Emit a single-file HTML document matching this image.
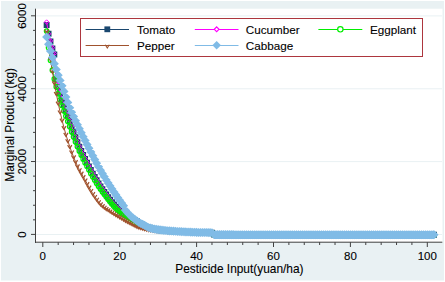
<!DOCTYPE html>
<html><head><meta charset="utf-8"><title>Marginal Product</title>
<style>
html,body{margin:0;padding:0;background:#fff;overflow:hidden;}
svg{display:block;}
text{font-family:"Liberation Sans",sans-serif;fill:#000;stroke:#000;stroke-width:0.1px;}
.tk{font-size:11.5px;}
.lg{font-size:11.7px;}
.ttl{font-size:11.9px;}
</style></head><body>
<svg width="445" height="282" viewBox="0 0 445 282">
<rect x="0" y="0" width="445" height="282" fill="#fff"/>
<rect x="1" y="1" width="443" height="279.5" fill="#E9F1F3"/>
<rect x="36" y="8.7" width="406.5" height="233.3" fill="#fff"/>
<line x1="36" x2="442" y1="234.50" y2="234.50" stroke="#E9F1F3" stroke-width="1"/>
<line x1="36" x2="442" y1="161.63" y2="161.63" stroke="#E9F1F3" stroke-width="1"/>
<line x1="36" x2="442" y1="88.77" y2="88.77" stroke="#E9F1F3" stroke-width="1"/>
<line x1="36" x2="442" y1="15.90" y2="15.90" stroke="#E9F1F3" stroke-width="1"/>
<g stroke="#404040" stroke-width="1">
<line x1="35.5" x2="35.5" y1="8.7" y2="243"/>
<line x1="35" x2="442.3" y1="242.2" y2="242.2"/>
<line x1="31.00" x2="35.5" y1="234.40" y2="234.40"/>
<line x1="33.00" x2="35.5" y1="219.83" y2="219.83"/>
<line x1="33.00" x2="35.5" y1="205.25" y2="205.25"/>
<line x1="33.00" x2="35.5" y1="190.68" y2="190.68"/>
<line x1="33.00" x2="35.5" y1="176.11" y2="176.11"/>
<line x1="31.00" x2="35.5" y1="161.53" y2="161.53"/>
<line x1="33.00" x2="35.5" y1="146.96" y2="146.96"/>
<line x1="33.00" x2="35.5" y1="132.39" y2="132.39"/>
<line x1="33.00" x2="35.5" y1="117.81" y2="117.81"/>
<line x1="33.00" x2="35.5" y1="103.24" y2="103.24"/>
<line x1="31.00" x2="35.5" y1="88.67" y2="88.67"/>
<line x1="33.00" x2="35.5" y1="74.09" y2="74.09"/>
<line x1="33.00" x2="35.5" y1="59.52" y2="59.52"/>
<line x1="33.00" x2="35.5" y1="44.95" y2="44.95"/>
<line x1="33.00" x2="35.5" y1="30.38" y2="30.38"/>
<line x1="31.00" x2="35.5" y1="15.80" y2="15.80"/>
<line x1="42.80" x2="42.80" y1="242.2" y2="247.00"/>
<line x1="58.18" x2="58.18" y1="242.2" y2="245.00"/>
<line x1="73.56" x2="73.56" y1="242.2" y2="245.00"/>
<line x1="88.94" x2="88.94" y1="242.2" y2="245.00"/>
<line x1="104.32" x2="104.32" y1="242.2" y2="245.00"/>
<line x1="119.70" x2="119.70" y1="242.2" y2="247.00"/>
<line x1="135.08" x2="135.08" y1="242.2" y2="245.00"/>
<line x1="150.46" x2="150.46" y1="242.2" y2="245.00"/>
<line x1="165.84" x2="165.84" y1="242.2" y2="245.00"/>
<line x1="181.22" x2="181.22" y1="242.2" y2="245.00"/>
<line x1="196.60" x2="196.60" y1="242.2" y2="247.00"/>
<line x1="211.98" x2="211.98" y1="242.2" y2="245.00"/>
<line x1="227.36" x2="227.36" y1="242.2" y2="245.00"/>
<line x1="242.74" x2="242.74" y1="242.2" y2="245.00"/>
<line x1="258.12" x2="258.12" y1="242.2" y2="245.00"/>
<line x1="273.50" x2="273.50" y1="242.2" y2="247.00"/>
<line x1="288.88" x2="288.88" y1="242.2" y2="245.00"/>
<line x1="304.26" x2="304.26" y1="242.2" y2="245.00"/>
<line x1="319.64" x2="319.64" y1="242.2" y2="245.00"/>
<line x1="335.02" x2="335.02" y1="242.2" y2="245.00"/>
<line x1="350.40" x2="350.40" y1="242.2" y2="247.00"/>
<line x1="365.78" x2="365.78" y1="242.2" y2="245.00"/>
<line x1="381.16" x2="381.16" y1="242.2" y2="245.00"/>
<line x1="396.54" x2="396.54" y1="242.2" y2="245.00"/>
<line x1="411.92" x2="411.92" y1="242.2" y2="245.00"/>
<line x1="427.30" x2="427.30" y1="242.2" y2="247.00"/>
</g>
<text class="tk" transform="translate(25.7,234.60) rotate(-90)" text-anchor="middle">0</text><text class="tk" transform="translate(25.7,161.73) rotate(-90)" text-anchor="middle">2000</text><text class="tk" transform="translate(25.7,88.87) rotate(-90)" text-anchor="middle">4000</text><text class="tk" transform="translate(25.7,16.00) rotate(-90)" text-anchor="middle">6000</text>
<text class="tk" x="42.80" y="260.1" text-anchor="middle">0</text><text class="tk" x="119.70" y="260.1" text-anchor="middle">20</text><text class="tk" x="196.60" y="260.1" text-anchor="middle">40</text><text class="tk" x="273.50" y="260.1" text-anchor="middle">60</text><text class="tk" x="350.40" y="260.1" text-anchor="middle">80</text><text class="tk" x="427.30" y="260.1" text-anchor="middle">100</text>
<text class="ttl" transform="translate(13.6,124.8) rotate(-90)" text-anchor="middle">Marginal Product (kg)</text>
<text class="ttl" x="239.4" y="272.6" text-anchor="middle">Pesticide Input(yuan/ha)</text>
<path d="M46.64,24.98 L48.57,33.79 L50.49,41.46 L52.41,48.49 L54.33,54.50 L56.26,79.37 L58.18,86.74 L60.10,93.32 L62.02,99.36 L63.95,105.05 L65.87,110.52 L67.79,115.89 L69.72,121.26 L71.64,126.69 L73.56,132.04 L75.48,137.18 L77.41,142.10 L79.33,146.66 L81.25,150.92 L83.17,154.95 L85.09,158.83 L87.02,162.60 L88.94,166.33 L90.86,170.04 L92.78,173.62 L94.71,177.04 L96.63,180.30 L98.55,183.41 L100.47,186.36 L102.40,189.17 L104.32,191.89 L106.24,194.57 L108.17,197.20 L110.09,199.75 L112.01,202.19 L113.93,204.50 L115.86,206.63 L117.78,208.58 L119.70,210.35 L121.62,211.94 L123.55,213.38 L125.47,214.70 L127.39,215.93 L129.31,217.09 L131.24,218.17 L133.16,219.18 L135.08,220.14 L137.00,221.22 L138.93,223.14 L140.85,224.48 L142.77,225.44 L144.69,226.26 L146.62,226.96 L148.54,227.57 L150.46,228.13 L152.38,228.65 L154.31,229.12 L156.23,229.55 L158.15,229.91 L160.07,230.21 L162.00,230.46 L163.92,230.68 L165.84,230.87 L167.76,231.04 L169.69,231.18 L171.61,231.30 L173.53,231.41 L175.45,231.50 L177.38,231.59 L179.30,231.67 L181.22,231.75 L183.14,231.83 L185.06,231.91 L186.99,231.98 L188.91,232.06 L190.83,232.13 L192.75,232.22 L194.68,232.31 L196.60,232.39 L198.52,232.46 L200.44,232.51 L202.37,232.54 L204.29,232.56 L206.21,232.57 L208.13,232.59 L210.06,232.63 L211.98,232.70 L213.90,234.51 L215.82,234.53 L217.75,234.56 L219.67,234.58 L221.59,234.60 L223.51,234.62 L225.44,234.63 L227.36,234.64 L229.28,234.66 L231.20,234.66 L233.13,234.67 L235.05,234.68 L236.97,234.68 L238.89,234.69 L240.82,234.69 L242.74,234.69 L244.66,234.69 L246.58,234.70 L248.51,234.70 L250.43,234.70 L252.35,234.70 L254.28,234.70 L256.20,234.71 L258.12,234.71 L260.04,234.71 L261.97,234.71 L263.89,234.72 L265.81,234.72 L267.73,234.72 L269.66,234.72 L271.58,234.72 L273.50,234.73 L275.42,234.73 L277.35,234.73 L279.27,234.73 L281.19,234.73 L283.11,234.73 L285.04,234.74 L286.96,234.74 L288.88,234.74 L290.80,234.74 L292.73,234.74 L294.65,234.74 L296.57,234.75 L298.49,234.75 L300.42,234.75 L302.34,234.75 L304.26,234.75 L306.18,234.75 L308.11,234.75 L310.03,234.76 L311.95,234.76 L313.87,234.76 L315.80,234.76 L317.72,234.76 L319.64,234.76 L321.56,234.76 L323.49,234.76 L325.41,234.77 L327.33,234.77 L329.25,234.77 L331.18,234.77 L333.10,234.77 L335.02,234.77 L336.94,234.77 L338.87,234.77 L340.79,234.77 L342.71,234.78 L344.63,234.78 L346.56,234.78 L348.48,234.78 L350.40,234.78 L352.32,234.78 L354.25,234.78 L356.17,234.78 L358.09,234.78 L360.01,234.78 L361.94,234.78 L363.86,234.79 L365.78,234.79 L367.70,234.79 L369.62,234.79 L371.55,234.79 L373.47,234.79 L375.39,234.79 L377.32,234.79 L379.24,234.79 L381.16,234.79 L383.08,234.79 L385.01,234.79 L386.93,234.79 L388.85,234.79 L390.77,234.79 L392.70,234.79 L394.62,234.79 L396.54,234.80 L398.46,234.80 L400.39,234.80 L402.31,234.80 L404.23,234.80 L406.15,234.80 L408.08,234.80 L410.00,234.80 L411.92,234.80 L413.84,234.80 L415.77,234.80 L417.69,234.80 L419.61,234.80 L421.53,234.80 L423.46,234.80 L425.38,234.80 L427.30,234.80 L429.22,234.80 L431.15,234.80 L433.07,234.80 L434.03,234.80" fill="none" stroke="#1A476F" stroke-width="1"/>
<path d="M43.69,22.03h5.90v5.90h-5.90zM45.62,30.84h5.90v5.90h-5.90zM47.54,38.51h5.90v5.90h-5.90zM49.46,45.54h5.90v5.90h-5.90zM51.38,51.55h5.90v5.90h-5.90zM53.31,76.42h5.90v5.90h-5.90zM55.23,83.79h5.90v5.90h-5.90zM57.15,90.37h5.90v5.90h-5.90zM59.07,96.41h5.90v5.90h-5.90zM61.00,102.10h5.90v5.90h-5.90zM62.92,107.57h5.90v5.90h-5.90zM64.84,112.94h5.90v5.90h-5.90zM66.77,118.31h5.90v5.90h-5.90zM68.69,123.74h5.90v5.90h-5.90zM70.61,129.09h5.90v5.90h-5.90zM72.53,134.23h5.90v5.90h-5.90zM74.45,139.15h5.90v5.90h-5.90zM76.38,143.71h5.90v5.90h-5.90zM78.30,147.97h5.90v5.90h-5.90zM80.22,152.00h5.90v5.90h-5.90zM82.14,155.88h5.90v5.90h-5.90zM84.07,159.65h5.90v5.90h-5.90zM85.99,163.38h5.90v5.90h-5.90zM87.91,167.09h5.90v5.90h-5.90zM89.83,170.67h5.90v5.90h-5.90zM91.76,174.09h5.90v5.90h-5.90zM93.68,177.35h5.90v5.90h-5.90zM95.60,180.46h5.90v5.90h-5.90zM97.52,183.41h5.90v5.90h-5.90zM99.45,186.22h5.90v5.90h-5.90zM101.37,188.94h5.90v5.90h-5.90zM103.29,191.62h5.90v5.90h-5.90zM105.22,194.25h5.90v5.90h-5.90zM107.14,196.80h5.90v5.90h-5.90zM109.06,199.24h5.90v5.90h-5.90zM110.98,201.55h5.90v5.90h-5.90zM112.91,203.68h5.90v5.90h-5.90zM114.83,205.63h5.90v5.90h-5.90zM116.75,207.40h5.90v5.90h-5.90zM118.67,208.99h5.90v5.90h-5.90zM120.59,210.43h5.90v5.90h-5.90zM122.52,211.75h5.90v5.90h-5.90zM124.44,212.98h5.90v5.90h-5.90zM126.36,214.14h5.90v5.90h-5.90zM128.29,215.22h5.90v5.90h-5.90zM130.21,216.23h5.90v5.90h-5.90zM132.13,217.19h5.90v5.90h-5.90zM134.05,218.27h5.90v5.90h-5.90zM135.98,220.19h5.90v5.90h-5.90zM137.90,221.53h5.90v5.90h-5.90zM139.82,222.49h5.90v5.90h-5.90zM141.74,223.31h5.90v5.90h-5.90zM143.67,224.01h5.90v5.90h-5.90zM145.59,224.62h5.90v5.90h-5.90zM147.51,225.18h5.90v5.90h-5.90zM149.43,225.70h5.90v5.90h-5.90zM151.36,226.17h5.90v5.90h-5.90zM153.28,226.60h5.90v5.90h-5.90zM155.20,226.96h5.90v5.90h-5.90zM157.12,227.26h5.90v5.90h-5.90zM159.05,227.51h5.90v5.90h-5.90zM160.97,227.73h5.90v5.90h-5.90zM162.89,227.92h5.90v5.90h-5.90zM164.81,228.09h5.90v5.90h-5.90zM166.74,228.23h5.90v5.90h-5.90zM168.66,228.35h5.90v5.90h-5.90zM170.58,228.46h5.90v5.90h-5.90zM172.50,228.55h5.90v5.90h-5.90zM174.43,228.64h5.90v5.90h-5.90zM176.35,228.72h5.90v5.90h-5.90zM178.27,228.80h5.90v5.90h-5.90zM180.19,228.88h5.90v5.90h-5.90zM182.12,228.96h5.90v5.90h-5.90zM184.04,229.03h5.90v5.90h-5.90zM185.96,229.11h5.90v5.90h-5.90zM187.88,229.18h5.90v5.90h-5.90zM189.81,229.27h5.90v5.90h-5.90zM191.73,229.36h5.90v5.90h-5.90zM193.65,229.44h5.90v5.90h-5.90zM195.57,229.51h5.90v5.90h-5.90zM197.50,229.56h5.90v5.90h-5.90zM199.42,229.59h5.90v5.90h-5.90zM201.34,229.61h5.90v5.90h-5.90zM203.26,229.62h5.90v5.90h-5.90zM205.19,229.64h5.90v5.90h-5.90zM207.11,229.68h5.90v5.90h-5.90zM209.03,229.75h5.90v5.90h-5.90zM210.95,231.56h5.90v5.90h-5.90zM212.88,231.58h5.90v5.90h-5.90zM214.80,231.61h5.90v5.90h-5.90zM216.72,231.63h5.90v5.90h-5.90zM218.64,231.65h5.90v5.90h-5.90zM220.56,231.67h5.90v5.90h-5.90zM222.49,231.68h5.90v5.90h-5.90zM224.41,231.69h5.90v5.90h-5.90zM226.33,231.71h5.90v5.90h-5.90zM228.25,231.71h5.90v5.90h-5.90zM230.18,231.72h5.90v5.90h-5.90zM232.10,231.73h5.90v5.90h-5.90zM234.02,231.73h5.90v5.90h-5.90zM235.94,231.74h5.90v5.90h-5.90zM237.87,231.74h5.90v5.90h-5.90zM239.79,231.74h5.90v5.90h-5.90zM241.71,231.74h5.90v5.90h-5.90zM243.63,231.75h5.90v5.90h-5.90zM245.56,231.75h5.90v5.90h-5.90zM247.48,231.75h5.90v5.90h-5.90zM249.40,231.75h5.90v5.90h-5.90zM251.33,231.75h5.90v5.90h-5.90zM253.25,231.76h5.90v5.90h-5.90zM255.17,231.76h5.90v5.90h-5.90zM257.09,231.76h5.90v5.90h-5.90zM259.02,231.76h5.90v5.90h-5.90zM260.94,231.77h5.90v5.90h-5.90zM262.86,231.77h5.90v5.90h-5.90zM264.78,231.77h5.90v5.90h-5.90zM266.71,231.77h5.90v5.90h-5.90zM268.63,231.77h5.90v5.90h-5.90zM270.55,231.78h5.90v5.90h-5.90zM272.47,231.78h5.90v5.90h-5.90zM274.40,231.78h5.90v5.90h-5.90zM276.32,231.78h5.90v5.90h-5.90zM278.24,231.78h5.90v5.90h-5.90zM280.16,231.78h5.90v5.90h-5.90zM282.09,231.79h5.90v5.90h-5.90zM284.01,231.79h5.90v5.90h-5.90zM285.93,231.79h5.90v5.90h-5.90zM287.85,231.79h5.90v5.90h-5.90zM289.78,231.79h5.90v5.90h-5.90zM291.70,231.79h5.90v5.90h-5.90zM293.62,231.80h5.90v5.90h-5.90zM295.54,231.80h5.90v5.90h-5.90zM297.47,231.80h5.90v5.90h-5.90zM299.39,231.80h5.90v5.90h-5.90zM301.31,231.80h5.90v5.90h-5.90zM303.23,231.80h5.90v5.90h-5.90zM305.16,231.80h5.90v5.90h-5.90zM307.08,231.81h5.90v5.90h-5.90zM309.00,231.81h5.90v5.90h-5.90zM310.92,231.81h5.90v5.90h-5.90zM312.85,231.81h5.90v5.90h-5.90zM314.77,231.81h5.90v5.90h-5.90zM316.69,231.81h5.90v5.90h-5.90zM318.61,231.81h5.90v5.90h-5.90zM320.54,231.81h5.90v5.90h-5.90zM322.46,231.82h5.90v5.90h-5.90zM324.38,231.82h5.90v5.90h-5.90zM326.30,231.82h5.90v5.90h-5.90zM328.23,231.82h5.90v5.90h-5.90zM330.15,231.82h5.90v5.90h-5.90zM332.07,231.82h5.90v5.90h-5.90zM333.99,231.82h5.90v5.90h-5.90zM335.92,231.82h5.90v5.90h-5.90zM337.84,231.82h5.90v5.90h-5.90zM339.76,231.83h5.90v5.90h-5.90zM341.68,231.83h5.90v5.90h-5.90zM343.61,231.83h5.90v5.90h-5.90zM345.53,231.83h5.90v5.90h-5.90zM347.45,231.83h5.90v5.90h-5.90zM349.37,231.83h5.90v5.90h-5.90zM351.30,231.83h5.90v5.90h-5.90zM353.22,231.83h5.90v5.90h-5.90zM355.14,231.83h5.90v5.90h-5.90zM357.06,231.83h5.90v5.90h-5.90zM358.99,231.83h5.90v5.90h-5.90zM360.91,231.84h5.90v5.90h-5.90zM362.83,231.84h5.90v5.90h-5.90zM364.75,231.84h5.90v5.90h-5.90zM366.68,231.84h5.90v5.90h-5.90zM368.60,231.84h5.90v5.90h-5.90zM370.52,231.84h5.90v5.90h-5.90zM372.44,231.84h5.90v5.90h-5.90zM374.37,231.84h5.90v5.90h-5.90zM376.29,231.84h5.90v5.90h-5.90zM378.21,231.84h5.90v5.90h-5.90zM380.13,231.84h5.90v5.90h-5.90zM382.06,231.84h5.90v5.90h-5.90zM383.98,231.84h5.90v5.90h-5.90zM385.90,231.84h5.90v5.90h-5.90zM387.82,231.84h5.90v5.90h-5.90zM389.75,231.84h5.90v5.90h-5.90zM391.67,231.84h5.90v5.90h-5.90zM393.59,231.85h5.90v5.90h-5.90zM395.51,231.85h5.90v5.90h-5.90zM397.44,231.85h5.90v5.90h-5.90zM399.36,231.85h5.90v5.90h-5.90zM401.28,231.85h5.90v5.90h-5.90zM403.20,231.85h5.90v5.90h-5.90zM405.13,231.85h5.90v5.90h-5.90zM407.05,231.85h5.90v5.90h-5.90zM408.97,231.85h5.90v5.90h-5.90zM410.89,231.85h5.90v5.90h-5.90zM412.82,231.85h5.90v5.90h-5.90zM414.74,231.85h5.90v5.90h-5.90zM416.66,231.85h5.90v5.90h-5.90zM418.58,231.85h5.90v5.90h-5.90zM420.51,231.85h5.90v5.90h-5.90zM422.43,231.85h5.90v5.90h-5.90zM424.35,231.85h5.90v5.90h-5.90zM426.27,231.85h5.90v5.90h-5.90zM428.20,231.85h5.90v5.90h-5.90zM430.12,231.85h5.90v5.90h-5.90zM431.08,231.85h5.90v5.90h-5.90z" fill="#1A476F"/>
<path d="M46.64,22.00 L48.57,33.81 L50.49,40.96 L52.41,47.70 L54.33,53.57 L56.26,78.64 L58.18,85.95 L60.10,92.58 L62.02,98.66 L63.95,104.38 L65.87,109.88 L67.79,115.28 L69.72,120.66 L71.64,126.12 L73.56,131.49 L75.48,136.65 L77.41,141.59 L79.33,146.18 L81.25,150.45 L83.17,154.50 L85.09,158.39 L87.02,162.18 L88.94,165.93 L90.86,169.65 L92.78,173.25 L94.71,176.69 L96.63,179.97 L98.55,183.09 L100.47,186.06 L102.40,188.88 L104.32,191.62 L106.24,194.32 L108.17,196.96 L110.09,199.52 L112.01,201.98 L113.93,204.30 L115.86,206.45 L117.78,208.41 L119.70,210.19 L121.62,211.79 L123.55,213.24 L125.47,214.57 L127.39,215.81 L129.31,216.97 L131.24,218.06 L133.16,219.08 L135.08,220.04 L137.00,221.07 L138.93,223.08 L140.85,224.49 L142.77,225.46 L144.69,226.28 L146.62,226.97 L148.54,227.58 L150.46,228.13 L152.38,228.65 L154.31,229.12 L156.23,229.55 L158.15,229.91 L160.07,230.21 L162.00,230.46 L163.92,230.68 L165.84,230.87 L167.76,231.04 L169.69,231.18 L171.61,231.30 L173.53,231.41 L175.45,231.50 L177.38,231.59 L179.30,231.67 L181.22,231.75 L183.14,231.83 L185.06,231.91 L186.99,231.98 L188.91,232.06 L190.83,232.13 L192.75,232.22 L194.68,232.31 L196.60,232.39 L198.52,232.46 L200.44,232.51 L202.37,232.54 L204.29,232.56 L206.21,232.57 L208.13,232.59 L210.06,232.63 L211.98,232.70 L213.90,234.51 L215.82,234.53 L217.75,234.56 L219.67,234.58 L221.59,234.60 L223.51,234.62 L225.44,234.63 L227.36,234.64 L229.28,234.66 L231.20,234.66 L233.13,234.67 L235.05,234.68 L236.97,234.68 L238.89,234.69 L240.82,234.69 L242.74,234.69 L244.66,234.69 L246.58,234.70 L248.51,234.70 L250.43,234.70 L252.35,234.70 L254.28,234.70 L256.20,234.71 L258.12,234.71 L260.04,234.71 L261.97,234.71 L263.89,234.72 L265.81,234.72 L267.73,234.72 L269.66,234.72 L271.58,234.72 L273.50,234.73 L275.42,234.73 L277.35,234.73 L279.27,234.73 L281.19,234.73 L283.11,234.73 L285.04,234.74 L286.96,234.74 L288.88,234.74 L290.80,234.74 L292.73,234.74 L294.65,234.74 L296.57,234.75 L298.49,234.75 L300.42,234.75 L302.34,234.75 L304.26,234.75 L306.18,234.75 L308.11,234.75 L310.03,234.76 L311.95,234.76 L313.87,234.76 L315.80,234.76 L317.72,234.76 L319.64,234.76 L321.56,234.76 L323.49,234.76 L325.41,234.77 L327.33,234.77 L329.25,234.77 L331.18,234.77 L333.10,234.77 L335.02,234.77 L336.94,234.77 L338.87,234.77 L340.79,234.77 L342.71,234.78 L344.63,234.78 L346.56,234.78 L348.48,234.78 L350.40,234.78 L352.32,234.78 L354.25,234.78 L356.17,234.78 L358.09,234.78 L360.01,234.78 L361.94,234.78 L363.86,234.79 L365.78,234.79 L367.70,234.79 L369.62,234.79 L371.55,234.79 L373.47,234.79 L375.39,234.79 L377.32,234.79 L379.24,234.79 L381.16,234.79 L383.08,234.79 L385.01,234.79 L386.93,234.79 L388.85,234.79 L390.77,234.79 L392.70,234.79 L394.62,234.79 L396.54,234.80 L398.46,234.80 L400.39,234.80 L402.31,234.80 L404.23,234.80 L406.15,234.80 L408.08,234.80 L410.00,234.80 L411.92,234.80 L413.84,234.80 L415.77,234.80 L417.69,234.80 L419.61,234.80 L421.53,234.80 L423.46,234.80 L425.38,234.80 L427.30,234.80 L429.22,234.80 L431.15,234.80 L433.07,234.80 L434.03,234.80" fill="none" stroke="#FF00FF" stroke-width="1"/>
<path d="M46.64,19.80l2.20,2.20l-2.20,2.20l-2.20,-2.20zM48.57,31.61l2.20,2.20l-2.20,2.20l-2.20,-2.20zM50.49,38.76l2.20,2.20l-2.20,2.20l-2.20,-2.20zM52.41,45.50l2.20,2.20l-2.20,2.20l-2.20,-2.20zM54.33,51.37l2.20,2.20l-2.20,2.20l-2.20,-2.20zM56.26,76.44l2.20,2.20l-2.20,2.20l-2.20,-2.20zM58.18,83.75l2.20,2.20l-2.20,2.20l-2.20,-2.20zM60.10,90.38l2.20,2.20l-2.20,2.20l-2.20,-2.20zM62.02,96.46l2.20,2.20l-2.20,2.20l-2.20,-2.20zM63.95,102.18l2.20,2.20l-2.20,2.20l-2.20,-2.20zM65.87,107.68l2.20,2.20l-2.20,2.20l-2.20,-2.20zM67.79,113.08l2.20,2.20l-2.20,2.20l-2.20,-2.20zM69.72,118.46l2.20,2.20l-2.20,2.20l-2.20,-2.20zM71.64,123.92l2.20,2.20l-2.20,2.20l-2.20,-2.20zM73.56,129.29l2.20,2.20l-2.20,2.20l-2.20,-2.20zM75.48,134.45l2.20,2.20l-2.20,2.20l-2.20,-2.20zM77.41,139.39l2.20,2.20l-2.20,2.20l-2.20,-2.20zM79.33,143.98l2.20,2.20l-2.20,2.20l-2.20,-2.20zM81.25,148.25l2.20,2.20l-2.20,2.20l-2.20,-2.20zM83.17,152.30l2.20,2.20l-2.20,2.20l-2.20,-2.20zM85.09,156.19l2.20,2.20l-2.20,2.20l-2.20,-2.20zM87.02,159.98l2.20,2.20l-2.20,2.20l-2.20,-2.20zM88.94,163.73l2.20,2.20l-2.20,2.20l-2.20,-2.20zM90.86,167.45l2.20,2.20l-2.20,2.20l-2.20,-2.20zM92.78,171.05l2.20,2.20l-2.20,2.20l-2.20,-2.20zM94.71,174.49l2.20,2.20l-2.20,2.20l-2.20,-2.20zM96.63,177.77l2.20,2.20l-2.20,2.20l-2.20,-2.20zM98.55,180.89l2.20,2.20l-2.20,2.20l-2.20,-2.20zM100.47,183.86l2.20,2.20l-2.20,2.20l-2.20,-2.20zM102.40,186.68l2.20,2.20l-2.20,2.20l-2.20,-2.20zM104.32,189.42l2.20,2.20l-2.20,2.20l-2.20,-2.20zM106.24,192.12l2.20,2.20l-2.20,2.20l-2.20,-2.20zM108.17,194.76l2.20,2.20l-2.20,2.20l-2.20,-2.20zM110.09,197.32l2.20,2.20l-2.20,2.20l-2.20,-2.20zM112.01,199.78l2.20,2.20l-2.20,2.20l-2.20,-2.20zM113.93,202.10l2.20,2.20l-2.20,2.20l-2.20,-2.20zM115.86,204.25l2.20,2.20l-2.20,2.20l-2.20,-2.20zM117.78,206.21l2.20,2.20l-2.20,2.20l-2.20,-2.20zM119.70,207.99l2.20,2.20l-2.20,2.20l-2.20,-2.20zM121.62,209.59l2.20,2.20l-2.20,2.20l-2.20,-2.20zM123.55,211.04l2.20,2.20l-2.20,2.20l-2.20,-2.20zM125.47,212.37l2.20,2.20l-2.20,2.20l-2.20,-2.20zM127.39,213.61l2.20,2.20l-2.20,2.20l-2.20,-2.20zM129.31,214.77l2.20,2.20l-2.20,2.20l-2.20,-2.20zM131.24,215.86l2.20,2.20l-2.20,2.20l-2.20,-2.20zM133.16,216.88l2.20,2.20l-2.20,2.20l-2.20,-2.20zM135.08,217.84l2.20,2.20l-2.20,2.20l-2.20,-2.20zM137.00,218.87l2.20,2.20l-2.20,2.20l-2.20,-2.20zM138.93,220.88l2.20,2.20l-2.20,2.20l-2.20,-2.20zM140.85,222.29l2.20,2.20l-2.20,2.20l-2.20,-2.20zM142.77,223.26l2.20,2.20l-2.20,2.20l-2.20,-2.20zM144.69,224.08l2.20,2.20l-2.20,2.20l-2.20,-2.20zM146.62,224.77l2.20,2.20l-2.20,2.20l-2.20,-2.20zM148.54,225.38l2.20,2.20l-2.20,2.20l-2.20,-2.20zM150.46,225.93l2.20,2.20l-2.20,2.20l-2.20,-2.20zM152.38,226.45l2.20,2.20l-2.20,2.20l-2.20,-2.20zM154.31,226.92l2.20,2.20l-2.20,2.20l-2.20,-2.20zM156.23,227.35l2.20,2.20l-2.20,2.20l-2.20,-2.20zM158.15,227.71l2.20,2.20l-2.20,2.20l-2.20,-2.20zM160.07,228.01l2.20,2.20l-2.20,2.20l-2.20,-2.20zM162.00,228.26l2.20,2.20l-2.20,2.20l-2.20,-2.20zM163.92,228.48l2.20,2.20l-2.20,2.20l-2.20,-2.20zM165.84,228.67l2.20,2.20l-2.20,2.20l-2.20,-2.20zM167.76,228.84l2.20,2.20l-2.20,2.20l-2.20,-2.20zM169.69,228.98l2.20,2.20l-2.20,2.20l-2.20,-2.20zM171.61,229.10l2.20,2.20l-2.20,2.20l-2.20,-2.20zM173.53,229.21l2.20,2.20l-2.20,2.20l-2.20,-2.20zM175.45,229.30l2.20,2.20l-2.20,2.20l-2.20,-2.20zM177.38,229.39l2.20,2.20l-2.20,2.20l-2.20,-2.20zM179.30,229.47l2.20,2.20l-2.20,2.20l-2.20,-2.20zM181.22,229.55l2.20,2.20l-2.20,2.20l-2.20,-2.20zM183.14,229.63l2.20,2.20l-2.20,2.20l-2.20,-2.20zM185.06,229.71l2.20,2.20l-2.20,2.20l-2.20,-2.20zM186.99,229.78l2.20,2.20l-2.20,2.20l-2.20,-2.20zM188.91,229.86l2.20,2.20l-2.20,2.20l-2.20,-2.20zM190.83,229.93l2.20,2.20l-2.20,2.20l-2.20,-2.20zM192.75,230.02l2.20,2.20l-2.20,2.20l-2.20,-2.20zM194.68,230.11l2.20,2.20l-2.20,2.20l-2.20,-2.20zM196.60,230.19l2.20,2.20l-2.20,2.20l-2.20,-2.20zM198.52,230.26l2.20,2.20l-2.20,2.20l-2.20,-2.20zM200.44,230.31l2.20,2.20l-2.20,2.20l-2.20,-2.20zM202.37,230.34l2.20,2.20l-2.20,2.20l-2.20,-2.20zM204.29,230.36l2.20,2.20l-2.20,2.20l-2.20,-2.20zM206.21,230.37l2.20,2.20l-2.20,2.20l-2.20,-2.20zM208.13,230.39l2.20,2.20l-2.20,2.20l-2.20,-2.20zM210.06,230.43l2.20,2.20l-2.20,2.20l-2.20,-2.20zM211.98,230.50l2.20,2.20l-2.20,2.20l-2.20,-2.20zM213.90,232.31l2.20,2.20l-2.20,2.20l-2.20,-2.20zM215.82,232.33l2.20,2.20l-2.20,2.20l-2.20,-2.20zM217.75,232.36l2.20,2.20l-2.20,2.20l-2.20,-2.20zM219.67,232.38l2.20,2.20l-2.20,2.20l-2.20,-2.20zM221.59,232.40l2.20,2.20l-2.20,2.20l-2.20,-2.20zM223.51,232.42l2.20,2.20l-2.20,2.20l-2.20,-2.20zM225.44,232.43l2.20,2.20l-2.20,2.20l-2.20,-2.20zM227.36,232.44l2.20,2.20l-2.20,2.20l-2.20,-2.20zM229.28,232.46l2.20,2.20l-2.20,2.20l-2.20,-2.20zM231.20,232.46l2.20,2.20l-2.20,2.20l-2.20,-2.20zM233.13,232.47l2.20,2.20l-2.20,2.20l-2.20,-2.20zM235.05,232.48l2.20,2.20l-2.20,2.20l-2.20,-2.20zM236.97,232.48l2.20,2.20l-2.20,2.20l-2.20,-2.20zM238.89,232.49l2.20,2.20l-2.20,2.20l-2.20,-2.20zM240.82,232.49l2.20,2.20l-2.20,2.20l-2.20,-2.20zM242.74,232.49l2.20,2.20l-2.20,2.20l-2.20,-2.20zM244.66,232.49l2.20,2.20l-2.20,2.20l-2.20,-2.20zM246.58,232.50l2.20,2.20l-2.20,2.20l-2.20,-2.20zM248.51,232.50l2.20,2.20l-2.20,2.20l-2.20,-2.20zM250.43,232.50l2.20,2.20l-2.20,2.20l-2.20,-2.20zM252.35,232.50l2.20,2.20l-2.20,2.20l-2.20,-2.20zM254.28,232.50l2.20,2.20l-2.20,2.20l-2.20,-2.20zM256.20,232.51l2.20,2.20l-2.20,2.20l-2.20,-2.20zM258.12,232.51l2.20,2.20l-2.20,2.20l-2.20,-2.20zM260.04,232.51l2.20,2.20l-2.20,2.20l-2.20,-2.20zM261.97,232.51l2.20,2.20l-2.20,2.20l-2.20,-2.20zM263.89,232.52l2.20,2.20l-2.20,2.20l-2.20,-2.20zM265.81,232.52l2.20,2.20l-2.20,2.20l-2.20,-2.20zM267.73,232.52l2.20,2.20l-2.20,2.20l-2.20,-2.20zM269.66,232.52l2.20,2.20l-2.20,2.20l-2.20,-2.20zM271.58,232.52l2.20,2.20l-2.20,2.20l-2.20,-2.20zM273.50,232.53l2.20,2.20l-2.20,2.20l-2.20,-2.20zM275.42,232.53l2.20,2.20l-2.20,2.20l-2.20,-2.20zM277.35,232.53l2.20,2.20l-2.20,2.20l-2.20,-2.20zM279.27,232.53l2.20,2.20l-2.20,2.20l-2.20,-2.20zM281.19,232.53l2.20,2.20l-2.20,2.20l-2.20,-2.20zM283.11,232.53l2.20,2.20l-2.20,2.20l-2.20,-2.20zM285.04,232.54l2.20,2.20l-2.20,2.20l-2.20,-2.20zM286.96,232.54l2.20,2.20l-2.20,2.20l-2.20,-2.20zM288.88,232.54l2.20,2.20l-2.20,2.20l-2.20,-2.20zM290.80,232.54l2.20,2.20l-2.20,2.20l-2.20,-2.20zM292.73,232.54l2.20,2.20l-2.20,2.20l-2.20,-2.20zM294.65,232.54l2.20,2.20l-2.20,2.20l-2.20,-2.20zM296.57,232.55l2.20,2.20l-2.20,2.20l-2.20,-2.20zM298.49,232.55l2.20,2.20l-2.20,2.20l-2.20,-2.20zM300.42,232.55l2.20,2.20l-2.20,2.20l-2.20,-2.20zM302.34,232.55l2.20,2.20l-2.20,2.20l-2.20,-2.20zM304.26,232.55l2.20,2.20l-2.20,2.20l-2.20,-2.20zM306.18,232.55l2.20,2.20l-2.20,2.20l-2.20,-2.20zM308.11,232.55l2.20,2.20l-2.20,2.20l-2.20,-2.20zM310.03,232.56l2.20,2.20l-2.20,2.20l-2.20,-2.20zM311.95,232.56l2.20,2.20l-2.20,2.20l-2.20,-2.20zM313.87,232.56l2.20,2.20l-2.20,2.20l-2.20,-2.20zM315.80,232.56l2.20,2.20l-2.20,2.20l-2.20,-2.20zM317.72,232.56l2.20,2.20l-2.20,2.20l-2.20,-2.20zM319.64,232.56l2.20,2.20l-2.20,2.20l-2.20,-2.20zM321.56,232.56l2.20,2.20l-2.20,2.20l-2.20,-2.20zM323.49,232.56l2.20,2.20l-2.20,2.20l-2.20,-2.20zM325.41,232.57l2.20,2.20l-2.20,2.20l-2.20,-2.20zM327.33,232.57l2.20,2.20l-2.20,2.20l-2.20,-2.20zM329.25,232.57l2.20,2.20l-2.20,2.20l-2.20,-2.20zM331.18,232.57l2.20,2.20l-2.20,2.20l-2.20,-2.20zM333.10,232.57l2.20,2.20l-2.20,2.20l-2.20,-2.20zM335.02,232.57l2.20,2.20l-2.20,2.20l-2.20,-2.20zM336.94,232.57l2.20,2.20l-2.20,2.20l-2.20,-2.20zM338.87,232.57l2.20,2.20l-2.20,2.20l-2.20,-2.20zM340.79,232.57l2.20,2.20l-2.20,2.20l-2.20,-2.20zM342.71,232.58l2.20,2.20l-2.20,2.20l-2.20,-2.20zM344.63,232.58l2.20,2.20l-2.20,2.20l-2.20,-2.20zM346.56,232.58l2.20,2.20l-2.20,2.20l-2.20,-2.20zM348.48,232.58l2.20,2.20l-2.20,2.20l-2.20,-2.20zM350.40,232.58l2.20,2.20l-2.20,2.20l-2.20,-2.20zM352.32,232.58l2.20,2.20l-2.20,2.20l-2.20,-2.20zM354.25,232.58l2.20,2.20l-2.20,2.20l-2.20,-2.20zM356.17,232.58l2.20,2.20l-2.20,2.20l-2.20,-2.20zM358.09,232.58l2.20,2.20l-2.20,2.20l-2.20,-2.20zM360.01,232.58l2.20,2.20l-2.20,2.20l-2.20,-2.20zM361.94,232.58l2.20,2.20l-2.20,2.20l-2.20,-2.20zM363.86,232.59l2.20,2.20l-2.20,2.20l-2.20,-2.20zM365.78,232.59l2.20,2.20l-2.20,2.20l-2.20,-2.20zM367.70,232.59l2.20,2.20l-2.20,2.20l-2.20,-2.20zM369.62,232.59l2.20,2.20l-2.20,2.20l-2.20,-2.20zM371.55,232.59l2.20,2.20l-2.20,2.20l-2.20,-2.20zM373.47,232.59l2.20,2.20l-2.20,2.20l-2.20,-2.20zM375.39,232.59l2.20,2.20l-2.20,2.20l-2.20,-2.20zM377.32,232.59l2.20,2.20l-2.20,2.20l-2.20,-2.20zM379.24,232.59l2.20,2.20l-2.20,2.20l-2.20,-2.20zM381.16,232.59l2.20,2.20l-2.20,2.20l-2.20,-2.20zM383.08,232.59l2.20,2.20l-2.20,2.20l-2.20,-2.20zM385.01,232.59l2.20,2.20l-2.20,2.20l-2.20,-2.20zM386.93,232.59l2.20,2.20l-2.20,2.20l-2.20,-2.20zM388.85,232.59l2.20,2.20l-2.20,2.20l-2.20,-2.20zM390.77,232.59l2.20,2.20l-2.20,2.20l-2.20,-2.20zM392.70,232.59l2.20,2.20l-2.20,2.20l-2.20,-2.20zM394.62,232.59l2.20,2.20l-2.20,2.20l-2.20,-2.20zM396.54,232.60l2.20,2.20l-2.20,2.20l-2.20,-2.20zM398.46,232.60l2.20,2.20l-2.20,2.20l-2.20,-2.20zM400.39,232.60l2.20,2.20l-2.20,2.20l-2.20,-2.20zM402.31,232.60l2.20,2.20l-2.20,2.20l-2.20,-2.20zM404.23,232.60l2.20,2.20l-2.20,2.20l-2.20,-2.20zM406.15,232.60l2.20,2.20l-2.20,2.20l-2.20,-2.20zM408.08,232.60l2.20,2.20l-2.20,2.20l-2.20,-2.20zM410.00,232.60l2.20,2.20l-2.20,2.20l-2.20,-2.20zM411.92,232.60l2.20,2.20l-2.20,2.20l-2.20,-2.20zM413.84,232.60l2.20,2.20l-2.20,2.20l-2.20,-2.20zM415.77,232.60l2.20,2.20l-2.20,2.20l-2.20,-2.20zM417.69,232.60l2.20,2.20l-2.20,2.20l-2.20,-2.20zM419.61,232.60l2.20,2.20l-2.20,2.20l-2.20,-2.20zM421.53,232.60l2.20,2.20l-2.20,2.20l-2.20,-2.20zM423.46,232.60l2.20,2.20l-2.20,2.20l-2.20,-2.20zM425.38,232.60l2.20,2.20l-2.20,2.20l-2.20,-2.20zM427.30,232.60l2.20,2.20l-2.20,2.20l-2.20,-2.20zM429.22,232.60l2.20,2.20l-2.20,2.20l-2.20,-2.20zM431.15,232.60l2.20,2.20l-2.20,2.20l-2.20,-2.20zM433.07,232.60l2.20,2.20l-2.20,2.20l-2.20,-2.20zM434.03,232.60l2.20,2.20l-2.20,2.20l-2.20,-2.20z" fill="none" stroke="#FF00FF" stroke-width="1.0"/>
<path d="M46.64,31.06 L48.57,47.53 L50.49,60.30 L52.41,70.23 L54.33,78.94 L56.26,86.73 L58.18,93.59 L60.10,99.78 L62.02,105.51 L63.95,110.93 L65.87,116.17 L67.79,121.32 L69.72,126.48 L71.64,131.70 L73.56,136.86 L75.48,141.81 L77.41,146.55 L79.33,150.94 L81.25,155.04 L83.17,158.92 L85.09,162.64 L87.02,166.27 L88.94,169.84 L90.86,173.40 L92.78,176.83 L94.71,180.10 L96.63,183.21 L98.55,186.18 L100.47,188.99 L102.40,191.67 L104.32,194.26 L106.24,196.81 L108.17,199.30 L110.09,201.72 L112.01,204.04 L113.93,206.22 L115.86,208.24 L117.78,210.08 L119.70,211.75 L121.62,213.25 L123.55,214.61 L125.47,215.85 L127.39,217.01 L129.31,218.10 L131.24,219.12 L133.16,220.08 L135.08,221.02 L137.00,222.21 L138.93,223.42 L140.85,224.41 L142.77,225.30 L144.69,226.13 L146.62,226.89 L148.54,227.56 L150.46,228.13 L152.38,228.65 L154.31,229.12 L156.23,229.55 L158.15,229.91 L160.07,230.21 L162.00,230.46 L163.92,230.68 L165.84,230.87 L167.76,231.04 L169.69,231.18 L171.61,231.30 L173.53,231.41 L175.45,231.50 L177.38,231.59 L179.30,231.67 L181.22,231.75 L183.14,231.83 L185.06,231.91 L186.99,231.98 L188.91,232.06 L190.83,232.13 L192.75,232.22 L194.68,232.31 L196.60,232.39 L198.52,232.46 L200.44,232.51 L202.37,232.54 L204.29,232.56 L206.21,232.57 L208.13,232.59 L210.06,232.63 L211.98,232.70 L213.90,234.51 L215.82,234.53 L217.75,234.56 L219.67,234.58 L221.59,234.60 L223.51,234.62 L225.44,234.63 L227.36,234.64 L229.28,234.66 L231.20,234.66 L233.13,234.67 L235.05,234.68 L236.97,234.68 L238.89,234.69 L240.82,234.69 L242.74,234.69 L244.66,234.69 L246.58,234.70 L248.51,234.70 L250.43,234.70 L252.35,234.70 L254.28,234.70 L256.20,234.71 L258.12,234.71 L260.04,234.71 L261.97,234.71 L263.89,234.72 L265.81,234.72 L267.73,234.72 L269.66,234.72 L271.58,234.72 L273.50,234.73 L275.42,234.73 L277.35,234.73 L279.27,234.73 L281.19,234.73 L283.11,234.73 L285.04,234.74 L286.96,234.74 L288.88,234.74 L290.80,234.74 L292.73,234.74 L294.65,234.74 L296.57,234.75 L298.49,234.75 L300.42,234.75 L302.34,234.75 L304.26,234.75 L306.18,234.75 L308.11,234.75 L310.03,234.76 L311.95,234.76 L313.87,234.76 L315.80,234.76 L317.72,234.76 L319.64,234.76 L321.56,234.76 L323.49,234.76 L325.41,234.77 L327.33,234.77 L329.25,234.77 L331.18,234.77 L333.10,234.77 L335.02,234.77 L336.94,234.77 L338.87,234.77 L340.79,234.77 L342.71,234.78 L344.63,234.78 L346.56,234.78 L348.48,234.78 L350.40,234.78 L352.32,234.78 L354.25,234.78 L356.17,234.78 L358.09,234.78 L360.01,234.78 L361.94,234.78 L363.86,234.79 L365.78,234.79 L367.70,234.79 L369.62,234.79 L371.55,234.79 L373.47,234.79 L375.39,234.79 L377.32,234.79 L379.24,234.79 L381.16,234.79 L383.08,234.79 L385.01,234.79 L386.93,234.79 L388.85,234.79 L390.77,234.79 L392.70,234.79 L394.62,234.79 L396.54,234.80 L398.46,234.80 L400.39,234.80 L402.31,234.80 L404.23,234.80 L406.15,234.80 L408.08,234.80 L410.00,234.80 L411.92,234.80 L413.84,234.80 L415.77,234.80 L417.69,234.80 L419.61,234.80 L421.53,234.80 L423.46,234.80 L425.38,234.80 L427.30,234.80 L429.22,234.80 L431.15,234.80 L433.07,234.80 L434.03,234.80" fill="none" stroke="#00EE00" stroke-width="1"/>
<path d="M44.39,31.06a2.25,2.25 0 1,0 4.50,0a2.25,2.25 0 1,0 -4.50,0zM46.32,47.53a2.25,2.25 0 1,0 4.50,0a2.25,2.25 0 1,0 -4.50,0zM48.24,60.30a2.25,2.25 0 1,0 4.50,0a2.25,2.25 0 1,0 -4.50,0zM50.16,70.23a2.25,2.25 0 1,0 4.50,0a2.25,2.25 0 1,0 -4.50,0zM52.08,78.94a2.25,2.25 0 1,0 4.50,0a2.25,2.25 0 1,0 -4.50,0zM54.01,86.73a2.25,2.25 0 1,0 4.50,0a2.25,2.25 0 1,0 -4.50,0zM55.93,93.59a2.25,2.25 0 1,0 4.50,0a2.25,2.25 0 1,0 -4.50,0zM57.85,99.78a2.25,2.25 0 1,0 4.50,0a2.25,2.25 0 1,0 -4.50,0zM59.77,105.51a2.25,2.25 0 1,0 4.50,0a2.25,2.25 0 1,0 -4.50,0zM61.70,110.93a2.25,2.25 0 1,0 4.50,0a2.25,2.25 0 1,0 -4.50,0zM63.62,116.17a2.25,2.25 0 1,0 4.50,0a2.25,2.25 0 1,0 -4.50,0zM65.54,121.32a2.25,2.25 0 1,0 4.50,0a2.25,2.25 0 1,0 -4.50,0zM67.47,126.48a2.25,2.25 0 1,0 4.50,0a2.25,2.25 0 1,0 -4.50,0zM69.39,131.70a2.25,2.25 0 1,0 4.50,0a2.25,2.25 0 1,0 -4.50,0zM71.31,136.86a2.25,2.25 0 1,0 4.50,0a2.25,2.25 0 1,0 -4.50,0zM73.23,141.81a2.25,2.25 0 1,0 4.50,0a2.25,2.25 0 1,0 -4.50,0zM75.16,146.55a2.25,2.25 0 1,0 4.50,0a2.25,2.25 0 1,0 -4.50,0zM77.08,150.94a2.25,2.25 0 1,0 4.50,0a2.25,2.25 0 1,0 -4.50,0zM79.00,155.04a2.25,2.25 0 1,0 4.50,0a2.25,2.25 0 1,0 -4.50,0zM80.92,158.92a2.25,2.25 0 1,0 4.50,0a2.25,2.25 0 1,0 -4.50,0zM82.84,162.64a2.25,2.25 0 1,0 4.50,0a2.25,2.25 0 1,0 -4.50,0zM84.77,166.27a2.25,2.25 0 1,0 4.50,0a2.25,2.25 0 1,0 -4.50,0zM86.69,169.84a2.25,2.25 0 1,0 4.50,0a2.25,2.25 0 1,0 -4.50,0zM88.61,173.40a2.25,2.25 0 1,0 4.50,0a2.25,2.25 0 1,0 -4.50,0zM90.53,176.83a2.25,2.25 0 1,0 4.50,0a2.25,2.25 0 1,0 -4.50,0zM92.46,180.10a2.25,2.25 0 1,0 4.50,0a2.25,2.25 0 1,0 -4.50,0zM94.38,183.21a2.25,2.25 0 1,0 4.50,0a2.25,2.25 0 1,0 -4.50,0zM96.30,186.18a2.25,2.25 0 1,0 4.50,0a2.25,2.25 0 1,0 -4.50,0zM98.22,188.99a2.25,2.25 0 1,0 4.50,0a2.25,2.25 0 1,0 -4.50,0zM100.15,191.67a2.25,2.25 0 1,0 4.50,0a2.25,2.25 0 1,0 -4.50,0zM102.07,194.26a2.25,2.25 0 1,0 4.50,0a2.25,2.25 0 1,0 -4.50,0zM103.99,196.81a2.25,2.25 0 1,0 4.50,0a2.25,2.25 0 1,0 -4.50,0zM105.92,199.30a2.25,2.25 0 1,0 4.50,0a2.25,2.25 0 1,0 -4.50,0zM107.84,201.72a2.25,2.25 0 1,0 4.50,0a2.25,2.25 0 1,0 -4.50,0zM109.76,204.04a2.25,2.25 0 1,0 4.50,0a2.25,2.25 0 1,0 -4.50,0zM111.68,206.22a2.25,2.25 0 1,0 4.50,0a2.25,2.25 0 1,0 -4.50,0zM113.61,208.24a2.25,2.25 0 1,0 4.50,0a2.25,2.25 0 1,0 -4.50,0zM115.53,210.08a2.25,2.25 0 1,0 4.50,0a2.25,2.25 0 1,0 -4.50,0zM117.45,211.75a2.25,2.25 0 1,0 4.50,0a2.25,2.25 0 1,0 -4.50,0zM119.37,213.25a2.25,2.25 0 1,0 4.50,0a2.25,2.25 0 1,0 -4.50,0zM121.30,214.61a2.25,2.25 0 1,0 4.50,0a2.25,2.25 0 1,0 -4.50,0zM123.22,215.85a2.25,2.25 0 1,0 4.50,0a2.25,2.25 0 1,0 -4.50,0zM125.14,217.01a2.25,2.25 0 1,0 4.50,0a2.25,2.25 0 1,0 -4.50,0zM127.06,218.10a2.25,2.25 0 1,0 4.50,0a2.25,2.25 0 1,0 -4.50,0zM128.99,219.12a2.25,2.25 0 1,0 4.50,0a2.25,2.25 0 1,0 -4.50,0zM130.91,220.08a2.25,2.25 0 1,0 4.50,0a2.25,2.25 0 1,0 -4.50,0zM132.83,221.02a2.25,2.25 0 1,0 4.50,0a2.25,2.25 0 1,0 -4.50,0zM134.75,222.21a2.25,2.25 0 1,0 4.50,0a2.25,2.25 0 1,0 -4.50,0zM136.68,223.42a2.25,2.25 0 1,0 4.50,0a2.25,2.25 0 1,0 -4.50,0zM138.60,224.41a2.25,2.25 0 1,0 4.50,0a2.25,2.25 0 1,0 -4.50,0zM140.52,225.30a2.25,2.25 0 1,0 4.50,0a2.25,2.25 0 1,0 -4.50,0zM142.44,226.13a2.25,2.25 0 1,0 4.50,0a2.25,2.25 0 1,0 -4.50,0zM144.37,226.89a2.25,2.25 0 1,0 4.50,0a2.25,2.25 0 1,0 -4.50,0zM146.29,227.56a2.25,2.25 0 1,0 4.50,0a2.25,2.25 0 1,0 -4.50,0zM148.21,228.13a2.25,2.25 0 1,0 4.50,0a2.25,2.25 0 1,0 -4.50,0zM150.13,228.65a2.25,2.25 0 1,0 4.50,0a2.25,2.25 0 1,0 -4.50,0zM152.06,229.12a2.25,2.25 0 1,0 4.50,0a2.25,2.25 0 1,0 -4.50,0zM153.98,229.55a2.25,2.25 0 1,0 4.50,0a2.25,2.25 0 1,0 -4.50,0zM155.90,229.91a2.25,2.25 0 1,0 4.50,0a2.25,2.25 0 1,0 -4.50,0zM157.82,230.21a2.25,2.25 0 1,0 4.50,0a2.25,2.25 0 1,0 -4.50,0zM159.75,230.46a2.25,2.25 0 1,0 4.50,0a2.25,2.25 0 1,0 -4.50,0zM161.67,230.68a2.25,2.25 0 1,0 4.50,0a2.25,2.25 0 1,0 -4.50,0zM163.59,230.87a2.25,2.25 0 1,0 4.50,0a2.25,2.25 0 1,0 -4.50,0zM165.51,231.04a2.25,2.25 0 1,0 4.50,0a2.25,2.25 0 1,0 -4.50,0zM167.44,231.18a2.25,2.25 0 1,0 4.50,0a2.25,2.25 0 1,0 -4.50,0zM169.36,231.30a2.25,2.25 0 1,0 4.50,0a2.25,2.25 0 1,0 -4.50,0zM171.28,231.41a2.25,2.25 0 1,0 4.50,0a2.25,2.25 0 1,0 -4.50,0zM173.20,231.50a2.25,2.25 0 1,0 4.50,0a2.25,2.25 0 1,0 -4.50,0zM175.12,231.59a2.25,2.25 0 1,0 4.50,0a2.25,2.25 0 1,0 -4.50,0zM177.05,231.67a2.25,2.25 0 1,0 4.50,0a2.25,2.25 0 1,0 -4.50,0zM178.97,231.75a2.25,2.25 0 1,0 4.50,0a2.25,2.25 0 1,0 -4.50,0zM180.89,231.83a2.25,2.25 0 1,0 4.50,0a2.25,2.25 0 1,0 -4.50,0zM182.81,231.91a2.25,2.25 0 1,0 4.50,0a2.25,2.25 0 1,0 -4.50,0zM184.74,231.98a2.25,2.25 0 1,0 4.50,0a2.25,2.25 0 1,0 -4.50,0zM186.66,232.06a2.25,2.25 0 1,0 4.50,0a2.25,2.25 0 1,0 -4.50,0zM188.58,232.13a2.25,2.25 0 1,0 4.50,0a2.25,2.25 0 1,0 -4.50,0zM190.50,232.22a2.25,2.25 0 1,0 4.50,0a2.25,2.25 0 1,0 -4.50,0zM192.43,232.31a2.25,2.25 0 1,0 4.50,0a2.25,2.25 0 1,0 -4.50,0zM194.35,232.39a2.25,2.25 0 1,0 4.50,0a2.25,2.25 0 1,0 -4.50,0zM196.27,232.46a2.25,2.25 0 1,0 4.50,0a2.25,2.25 0 1,0 -4.50,0zM198.19,232.51a2.25,2.25 0 1,0 4.50,0a2.25,2.25 0 1,0 -4.50,0zM200.12,232.54a2.25,2.25 0 1,0 4.50,0a2.25,2.25 0 1,0 -4.50,0zM202.04,232.56a2.25,2.25 0 1,0 4.50,0a2.25,2.25 0 1,0 -4.50,0zM203.96,232.57a2.25,2.25 0 1,0 4.50,0a2.25,2.25 0 1,0 -4.50,0zM205.88,232.59a2.25,2.25 0 1,0 4.50,0a2.25,2.25 0 1,0 -4.50,0zM207.81,232.63a2.25,2.25 0 1,0 4.50,0a2.25,2.25 0 1,0 -4.50,0zM209.73,232.70a2.25,2.25 0 1,0 4.50,0a2.25,2.25 0 1,0 -4.50,0zM211.65,234.51a2.25,2.25 0 1,0 4.50,0a2.25,2.25 0 1,0 -4.50,0zM213.57,234.53a2.25,2.25 0 1,0 4.50,0a2.25,2.25 0 1,0 -4.50,0zM215.50,234.56a2.25,2.25 0 1,0 4.50,0a2.25,2.25 0 1,0 -4.50,0zM217.42,234.58a2.25,2.25 0 1,0 4.50,0a2.25,2.25 0 1,0 -4.50,0zM219.34,234.60a2.25,2.25 0 1,0 4.50,0a2.25,2.25 0 1,0 -4.50,0zM221.26,234.62a2.25,2.25 0 1,0 4.50,0a2.25,2.25 0 1,0 -4.50,0zM223.19,234.63a2.25,2.25 0 1,0 4.50,0a2.25,2.25 0 1,0 -4.50,0zM225.11,234.64a2.25,2.25 0 1,0 4.50,0a2.25,2.25 0 1,0 -4.50,0zM227.03,234.66a2.25,2.25 0 1,0 4.50,0a2.25,2.25 0 1,0 -4.50,0zM228.95,234.66a2.25,2.25 0 1,0 4.50,0a2.25,2.25 0 1,0 -4.50,0zM230.88,234.67a2.25,2.25 0 1,0 4.50,0a2.25,2.25 0 1,0 -4.50,0zM232.80,234.68a2.25,2.25 0 1,0 4.50,0a2.25,2.25 0 1,0 -4.50,0zM234.72,234.68a2.25,2.25 0 1,0 4.50,0a2.25,2.25 0 1,0 -4.50,0zM236.64,234.69a2.25,2.25 0 1,0 4.50,0a2.25,2.25 0 1,0 -4.50,0zM238.57,234.69a2.25,2.25 0 1,0 4.50,0a2.25,2.25 0 1,0 -4.50,0zM240.49,234.69a2.25,2.25 0 1,0 4.50,0a2.25,2.25 0 1,0 -4.50,0zM242.41,234.69a2.25,2.25 0 1,0 4.50,0a2.25,2.25 0 1,0 -4.50,0zM244.33,234.70a2.25,2.25 0 1,0 4.50,0a2.25,2.25 0 1,0 -4.50,0zM246.26,234.70a2.25,2.25 0 1,0 4.50,0a2.25,2.25 0 1,0 -4.50,0zM248.18,234.70a2.25,2.25 0 1,0 4.50,0a2.25,2.25 0 1,0 -4.50,0zM250.10,234.70a2.25,2.25 0 1,0 4.50,0a2.25,2.25 0 1,0 -4.50,0zM252.03,234.70a2.25,2.25 0 1,0 4.50,0a2.25,2.25 0 1,0 -4.50,0zM253.95,234.71a2.25,2.25 0 1,0 4.50,0a2.25,2.25 0 1,0 -4.50,0zM255.87,234.71a2.25,2.25 0 1,0 4.50,0a2.25,2.25 0 1,0 -4.50,0zM257.79,234.71a2.25,2.25 0 1,0 4.50,0a2.25,2.25 0 1,0 -4.50,0zM259.72,234.71a2.25,2.25 0 1,0 4.50,0a2.25,2.25 0 1,0 -4.50,0zM261.64,234.72a2.25,2.25 0 1,0 4.50,0a2.25,2.25 0 1,0 -4.50,0zM263.56,234.72a2.25,2.25 0 1,0 4.50,0a2.25,2.25 0 1,0 -4.50,0zM265.48,234.72a2.25,2.25 0 1,0 4.50,0a2.25,2.25 0 1,0 -4.50,0zM267.41,234.72a2.25,2.25 0 1,0 4.50,0a2.25,2.25 0 1,0 -4.50,0zM269.33,234.72a2.25,2.25 0 1,0 4.50,0a2.25,2.25 0 1,0 -4.50,0zM271.25,234.73a2.25,2.25 0 1,0 4.50,0a2.25,2.25 0 1,0 -4.50,0zM273.17,234.73a2.25,2.25 0 1,0 4.50,0a2.25,2.25 0 1,0 -4.50,0zM275.10,234.73a2.25,2.25 0 1,0 4.50,0a2.25,2.25 0 1,0 -4.50,0zM277.02,234.73a2.25,2.25 0 1,0 4.50,0a2.25,2.25 0 1,0 -4.50,0zM278.94,234.73a2.25,2.25 0 1,0 4.50,0a2.25,2.25 0 1,0 -4.50,0zM280.86,234.73a2.25,2.25 0 1,0 4.50,0a2.25,2.25 0 1,0 -4.50,0zM282.79,234.74a2.25,2.25 0 1,0 4.50,0a2.25,2.25 0 1,0 -4.50,0zM284.71,234.74a2.25,2.25 0 1,0 4.50,0a2.25,2.25 0 1,0 -4.50,0zM286.63,234.74a2.25,2.25 0 1,0 4.50,0a2.25,2.25 0 1,0 -4.50,0zM288.55,234.74a2.25,2.25 0 1,0 4.50,0a2.25,2.25 0 1,0 -4.50,0zM290.48,234.74a2.25,2.25 0 1,0 4.50,0a2.25,2.25 0 1,0 -4.50,0zM292.40,234.74a2.25,2.25 0 1,0 4.50,0a2.25,2.25 0 1,0 -4.50,0zM294.32,234.75a2.25,2.25 0 1,0 4.50,0a2.25,2.25 0 1,0 -4.50,0zM296.24,234.75a2.25,2.25 0 1,0 4.50,0a2.25,2.25 0 1,0 -4.50,0zM298.17,234.75a2.25,2.25 0 1,0 4.50,0a2.25,2.25 0 1,0 -4.50,0zM300.09,234.75a2.25,2.25 0 1,0 4.50,0a2.25,2.25 0 1,0 -4.50,0zM302.01,234.75a2.25,2.25 0 1,0 4.50,0a2.25,2.25 0 1,0 -4.50,0zM303.93,234.75a2.25,2.25 0 1,0 4.50,0a2.25,2.25 0 1,0 -4.50,0zM305.86,234.75a2.25,2.25 0 1,0 4.50,0a2.25,2.25 0 1,0 -4.50,0zM307.78,234.76a2.25,2.25 0 1,0 4.50,0a2.25,2.25 0 1,0 -4.50,0zM309.70,234.76a2.25,2.25 0 1,0 4.50,0a2.25,2.25 0 1,0 -4.50,0zM311.62,234.76a2.25,2.25 0 1,0 4.50,0a2.25,2.25 0 1,0 -4.50,0zM313.55,234.76a2.25,2.25 0 1,0 4.50,0a2.25,2.25 0 1,0 -4.50,0zM315.47,234.76a2.25,2.25 0 1,0 4.50,0a2.25,2.25 0 1,0 -4.50,0zM317.39,234.76a2.25,2.25 0 1,0 4.50,0a2.25,2.25 0 1,0 -4.50,0zM319.31,234.76a2.25,2.25 0 1,0 4.50,0a2.25,2.25 0 1,0 -4.50,0zM321.24,234.76a2.25,2.25 0 1,0 4.50,0a2.25,2.25 0 1,0 -4.50,0zM323.16,234.77a2.25,2.25 0 1,0 4.50,0a2.25,2.25 0 1,0 -4.50,0zM325.08,234.77a2.25,2.25 0 1,0 4.50,0a2.25,2.25 0 1,0 -4.50,0zM327.00,234.77a2.25,2.25 0 1,0 4.50,0a2.25,2.25 0 1,0 -4.50,0zM328.93,234.77a2.25,2.25 0 1,0 4.50,0a2.25,2.25 0 1,0 -4.50,0zM330.85,234.77a2.25,2.25 0 1,0 4.50,0a2.25,2.25 0 1,0 -4.50,0zM332.77,234.77a2.25,2.25 0 1,0 4.50,0a2.25,2.25 0 1,0 -4.50,0zM334.69,234.77a2.25,2.25 0 1,0 4.50,0a2.25,2.25 0 1,0 -4.50,0zM336.62,234.77a2.25,2.25 0 1,0 4.50,0a2.25,2.25 0 1,0 -4.50,0zM338.54,234.77a2.25,2.25 0 1,0 4.50,0a2.25,2.25 0 1,0 -4.50,0zM340.46,234.78a2.25,2.25 0 1,0 4.50,0a2.25,2.25 0 1,0 -4.50,0zM342.38,234.78a2.25,2.25 0 1,0 4.50,0a2.25,2.25 0 1,0 -4.50,0zM344.31,234.78a2.25,2.25 0 1,0 4.50,0a2.25,2.25 0 1,0 -4.50,0zM346.23,234.78a2.25,2.25 0 1,0 4.50,0a2.25,2.25 0 1,0 -4.50,0zM348.15,234.78a2.25,2.25 0 1,0 4.50,0a2.25,2.25 0 1,0 -4.50,0zM350.07,234.78a2.25,2.25 0 1,0 4.50,0a2.25,2.25 0 1,0 -4.50,0zM352.00,234.78a2.25,2.25 0 1,0 4.50,0a2.25,2.25 0 1,0 -4.50,0zM353.92,234.78a2.25,2.25 0 1,0 4.50,0a2.25,2.25 0 1,0 -4.50,0zM355.84,234.78a2.25,2.25 0 1,0 4.50,0a2.25,2.25 0 1,0 -4.50,0zM357.76,234.78a2.25,2.25 0 1,0 4.50,0a2.25,2.25 0 1,0 -4.50,0zM359.69,234.78a2.25,2.25 0 1,0 4.50,0a2.25,2.25 0 1,0 -4.50,0zM361.61,234.79a2.25,2.25 0 1,0 4.50,0a2.25,2.25 0 1,0 -4.50,0zM363.53,234.79a2.25,2.25 0 1,0 4.50,0a2.25,2.25 0 1,0 -4.50,0zM365.45,234.79a2.25,2.25 0 1,0 4.50,0a2.25,2.25 0 1,0 -4.50,0zM367.38,234.79a2.25,2.25 0 1,0 4.50,0a2.25,2.25 0 1,0 -4.50,0zM369.30,234.79a2.25,2.25 0 1,0 4.50,0a2.25,2.25 0 1,0 -4.50,0zM371.22,234.79a2.25,2.25 0 1,0 4.50,0a2.25,2.25 0 1,0 -4.50,0zM373.14,234.79a2.25,2.25 0 1,0 4.50,0a2.25,2.25 0 1,0 -4.50,0zM375.07,234.79a2.25,2.25 0 1,0 4.50,0a2.25,2.25 0 1,0 -4.50,0zM376.99,234.79a2.25,2.25 0 1,0 4.50,0a2.25,2.25 0 1,0 -4.50,0zM378.91,234.79a2.25,2.25 0 1,0 4.50,0a2.25,2.25 0 1,0 -4.50,0zM380.83,234.79a2.25,2.25 0 1,0 4.50,0a2.25,2.25 0 1,0 -4.50,0zM382.76,234.79a2.25,2.25 0 1,0 4.50,0a2.25,2.25 0 1,0 -4.50,0zM384.68,234.79a2.25,2.25 0 1,0 4.50,0a2.25,2.25 0 1,0 -4.50,0zM386.60,234.79a2.25,2.25 0 1,0 4.50,0a2.25,2.25 0 1,0 -4.50,0zM388.52,234.79a2.25,2.25 0 1,0 4.50,0a2.25,2.25 0 1,0 -4.50,0zM390.45,234.79a2.25,2.25 0 1,0 4.50,0a2.25,2.25 0 1,0 -4.50,0zM392.37,234.79a2.25,2.25 0 1,0 4.50,0a2.25,2.25 0 1,0 -4.50,0zM394.29,234.80a2.25,2.25 0 1,0 4.50,0a2.25,2.25 0 1,0 -4.50,0zM396.21,234.80a2.25,2.25 0 1,0 4.50,0a2.25,2.25 0 1,0 -4.50,0zM398.14,234.80a2.25,2.25 0 1,0 4.50,0a2.25,2.25 0 1,0 -4.50,0zM400.06,234.80a2.25,2.25 0 1,0 4.50,0a2.25,2.25 0 1,0 -4.50,0zM401.98,234.80a2.25,2.25 0 1,0 4.50,0a2.25,2.25 0 1,0 -4.50,0zM403.90,234.80a2.25,2.25 0 1,0 4.50,0a2.25,2.25 0 1,0 -4.50,0zM405.83,234.80a2.25,2.25 0 1,0 4.50,0a2.25,2.25 0 1,0 -4.50,0zM407.75,234.80a2.25,2.25 0 1,0 4.50,0a2.25,2.25 0 1,0 -4.50,0zM409.67,234.80a2.25,2.25 0 1,0 4.50,0a2.25,2.25 0 1,0 -4.50,0zM411.59,234.80a2.25,2.25 0 1,0 4.50,0a2.25,2.25 0 1,0 -4.50,0zM413.52,234.80a2.25,2.25 0 1,0 4.50,0a2.25,2.25 0 1,0 -4.50,0zM415.44,234.80a2.25,2.25 0 1,0 4.50,0a2.25,2.25 0 1,0 -4.50,0zM417.36,234.80a2.25,2.25 0 1,0 4.50,0a2.25,2.25 0 1,0 -4.50,0zM419.28,234.80a2.25,2.25 0 1,0 4.50,0a2.25,2.25 0 1,0 -4.50,0zM421.21,234.80a2.25,2.25 0 1,0 4.50,0a2.25,2.25 0 1,0 -4.50,0zM423.13,234.80a2.25,2.25 0 1,0 4.50,0a2.25,2.25 0 1,0 -4.50,0zM425.05,234.80a2.25,2.25 0 1,0 4.50,0a2.25,2.25 0 1,0 -4.50,0zM426.97,234.80a2.25,2.25 0 1,0 4.50,0a2.25,2.25 0 1,0 -4.50,0zM428.90,234.80a2.25,2.25 0 1,0 4.50,0a2.25,2.25 0 1,0 -4.50,0zM430.82,234.80a2.25,2.25 0 1,0 4.50,0a2.25,2.25 0 1,0 -4.50,0zM431.78,234.80a2.25,2.25 0 1,0 4.50,0a2.25,2.25 0 1,0 -4.50,0z" fill="none" stroke="#00EE00" stroke-width="1.25"/>
<path d="M46.64,31.23 L48.57,45.79 L50.49,59.02 L52.41,71.43 L54.33,82.90 L56.26,93.44 L58.18,103.11 L60.10,111.97 L62.02,120.09 L63.95,127.55 L65.87,134.41 L67.79,140.73 L69.72,146.55 L71.64,151.94 L73.56,156.92 L75.48,161.55 L77.41,165.86 L79.33,169.71 L81.25,173.13 L83.17,176.53 L85.09,179.97 L87.02,183.56 L88.94,187.14 L90.86,190.45 L92.78,193.58 L94.71,196.48 L96.63,199.18 L98.55,201.70 L100.47,203.87 L102.40,205.66 L104.32,207.20 L106.24,208.56 L108.17,209.76 L110.09,210.96 L112.01,212.22 L113.93,213.46 L115.86,214.64 L117.78,215.79 L119.70,216.92 L121.62,218.05 L123.55,219.19 L125.47,220.31 L127.39,221.40 L129.31,222.44 L131.24,223.44 L133.16,224.46 L135.08,225.45 L137.00,226.36 L138.93,227.14 L140.85,227.76 L142.77,228.30 L144.69,228.78 L146.62,229.20 L148.54,229.56 L150.46,229.87 L152.38,230.13 L154.31,230.36 L156.23,230.57 L158.15,230.75 L160.07,230.91 L162.00,231.05 L163.92,231.17 L165.84,231.29 L167.76,231.39 L169.69,231.48 L171.61,231.57 L173.53,231.65 L175.45,231.73 L177.38,231.80 L179.30,231.87 L181.22,231.95 L183.14,232.03 L185.06,232.11 L186.99,232.19 L188.91,232.26 L190.83,232.33 L192.75,232.39 L194.68,232.46 L196.60,232.51 L198.52,232.57 L200.44,232.61 L202.37,232.64 L204.29,232.65 L206.21,232.67 L208.13,232.69 L210.06,232.73 L211.98,232.80 L213.90,234.51 L215.82,234.53 L217.75,234.56 L219.67,234.58 L221.59,234.60 L223.51,234.62 L225.44,234.63 L227.36,234.64 L229.28,234.66 L231.20,234.66 L233.13,234.67 L235.05,234.68 L236.97,234.68 L238.89,234.69 L240.82,234.69 L242.74,234.69 L244.66,234.69 L246.58,234.70 L248.51,234.70 L250.43,234.70 L252.35,234.70 L254.28,234.70 L256.20,234.71 L258.12,234.71 L260.04,234.71 L261.97,234.71 L263.89,234.72 L265.81,234.72 L267.73,234.72 L269.66,234.72 L271.58,234.72 L273.50,234.73 L275.42,234.73 L277.35,234.73 L279.27,234.73 L281.19,234.73 L283.11,234.73 L285.04,234.74 L286.96,234.74 L288.88,234.74 L290.80,234.74 L292.73,234.74 L294.65,234.74 L296.57,234.75 L298.49,234.75 L300.42,234.75 L302.34,234.75 L304.26,234.75 L306.18,234.75 L308.11,234.75 L310.03,234.76 L311.95,234.76 L313.87,234.76 L315.80,234.76 L317.72,234.76 L319.64,234.76 L321.56,234.76 L323.49,234.76 L325.41,234.77 L327.33,234.77 L329.25,234.77 L331.18,234.77 L333.10,234.77 L335.02,234.77 L336.94,234.77 L338.87,234.77 L340.79,234.77 L342.71,234.78 L344.63,234.78 L346.56,234.78 L348.48,234.78 L350.40,234.78 L352.32,234.78 L354.25,234.78 L356.17,234.78 L358.09,234.78 L360.01,234.78 L361.94,234.78 L363.86,234.79 L365.78,234.79 L367.70,234.79 L369.62,234.79 L371.55,234.79 L373.47,234.79 L375.39,234.79 L377.32,234.79 L379.24,234.79 L381.16,234.79 L383.08,234.79 L385.01,234.79 L386.93,234.79 L388.85,234.79 L390.77,234.79 L392.70,234.79 L394.62,234.79 L396.54,234.80 L398.46,234.80 L400.39,234.80 L402.31,234.80 L404.23,234.80 L406.15,234.80 L408.08,234.80 L410.00,234.80 L411.92,234.80 L413.84,234.80 L415.77,234.80 L417.69,234.80 L419.61,234.80 L421.53,234.80 L423.46,234.80 L425.38,234.80 L427.30,234.80 L429.22,234.80 L431.15,234.80 L433.07,234.80 L434.03,234.80" fill="none" stroke="#A0522D" stroke-width="1"/>
<path d="M44.54,29.76L46.64,33.12L48.74,29.76M46.47,44.32L48.57,47.68L50.67,44.32M48.39,57.55L50.49,60.91L52.59,57.55M50.31,69.96L52.41,73.32L54.51,69.96M52.23,81.43L54.33,84.79L56.43,81.43M54.16,91.97L56.26,95.33L58.36,91.97M56.08,101.64L58.18,105.00L60.28,101.64M58.00,110.50L60.10,113.86L62.20,110.50M59.92,118.62L62.02,121.98L64.12,118.62M61.85,126.08L63.95,129.44L66.05,126.08M63.77,132.94L65.87,136.30L67.97,132.94M65.69,139.26L67.79,142.62L69.89,139.26M67.62,145.08L69.72,148.44L71.81,145.08M69.54,150.47L71.64,153.83L73.74,150.47M71.46,155.45L73.56,158.81L75.66,155.45M73.38,160.08L75.48,163.44L77.58,160.08M75.31,164.39L77.41,167.75L79.50,164.39M77.23,168.24L79.33,171.60L81.43,168.24M79.15,171.66L81.25,175.02L83.35,171.66M81.07,175.06L83.17,178.42L85.27,175.06M83.00,178.50L85.09,181.86L87.19,178.50M84.92,182.09L87.02,185.45L89.12,182.09M86.84,185.67L88.94,189.03L91.04,185.67M88.76,188.98L90.86,192.34L92.96,188.98M90.69,192.11L92.78,195.47L94.88,192.11M92.61,195.01L94.71,198.37L96.81,195.01M94.53,197.71L96.63,201.07L98.73,197.71M96.45,200.23L98.55,203.59L100.65,200.23M98.38,202.40L100.47,205.76L102.57,202.40M100.30,204.19L102.40,207.55L104.50,204.19M102.22,205.73L104.32,209.09L106.42,205.73M104.14,207.09L106.24,210.45L108.34,207.09M106.07,208.29L108.17,211.65L110.27,208.29M107.99,209.49L110.09,212.85L112.19,209.49M109.91,210.75L112.01,214.11L114.11,210.75M111.83,211.99L113.93,215.35L116.03,211.99M113.76,213.17L115.86,216.53L117.95,213.17M115.68,214.32L117.78,217.68L119.88,214.32M117.60,215.45L119.70,218.81L121.80,215.45M119.52,216.58L121.62,219.94L123.72,216.58M121.45,217.72L123.55,221.08L125.64,217.72M123.37,218.84L125.47,222.20L127.57,218.84M125.29,219.93L127.39,223.29L129.49,219.93M127.21,220.97L129.31,224.33L131.41,220.97M129.14,221.97L131.24,225.33L133.34,221.97M131.06,222.99L133.16,226.35L135.26,222.99M132.98,223.98L135.08,227.34L137.18,223.98M134.90,224.89L137.00,228.25L139.10,224.89M136.83,225.67L138.93,229.03L141.03,225.67M138.75,226.29L140.85,229.65L142.95,226.29M140.67,226.83L142.77,230.19L144.87,226.83M142.59,227.31L144.69,230.67L146.79,227.31M144.52,227.73L146.62,231.09L148.72,227.73M146.44,228.09L148.54,231.45L150.64,228.09M148.36,228.40L150.46,231.76L152.56,228.40M150.28,228.66L152.38,232.02L154.48,228.66M152.21,228.89L154.31,232.25L156.41,228.89M154.13,229.10L156.23,232.46L158.33,229.10M156.05,229.28L158.15,232.64L160.25,229.28M157.97,229.44L160.07,232.80L162.17,229.44M159.90,229.58L162.00,232.94L164.09,229.58M161.82,229.70L163.92,233.06L166.02,229.70M163.74,229.82L165.84,233.18L167.94,229.82M165.66,229.92L167.76,233.28L169.86,229.92M167.59,230.01L169.69,233.37L171.78,230.01M169.51,230.10L171.61,233.46L173.71,230.10M171.43,230.18L173.53,233.54L175.63,230.18M173.35,230.26L175.45,233.62L177.55,230.26M175.28,230.33L177.38,233.69L179.47,230.33M177.20,230.40L179.30,233.76L181.40,230.40M179.12,230.48L181.22,233.84L183.32,230.48M181.04,230.56L183.14,233.92L185.24,230.56M182.97,230.64L185.06,234.00L187.16,230.64M184.89,230.72L186.99,234.08L189.09,230.72M186.81,230.79L188.91,234.15L191.01,230.79M188.73,230.86L190.83,234.22L192.93,230.86M190.66,230.92L192.75,234.28L194.85,230.92M192.58,230.99L194.68,234.35L196.78,230.99M194.50,231.04L196.60,234.40L198.70,231.04M196.42,231.10L198.52,234.46L200.62,231.10M198.34,231.14L200.44,234.50L202.54,231.14M200.27,231.17L202.37,234.53L204.47,231.17M202.19,231.18L204.29,234.54L206.39,231.18M204.11,231.20L206.21,234.56L208.31,231.20M206.03,231.22L208.13,234.58L210.23,231.22M207.96,231.26L210.06,234.62L212.16,231.26M209.88,231.33L211.98,234.69L214.08,231.33M211.80,233.04L213.90,236.40L216.00,233.04M213.72,233.06L215.82,236.42L217.92,233.06M215.65,233.09L217.75,236.45L219.85,233.09M217.57,233.11L219.67,236.47L221.77,233.11M219.49,233.13L221.59,236.49L223.69,233.13M221.41,233.15L223.51,236.51L225.61,233.15M223.34,233.16L225.44,236.52L227.54,233.16M225.26,233.17L227.36,236.53L229.46,233.17M227.18,233.19L229.28,236.55L231.38,233.19M229.10,233.19L231.20,236.55L233.30,233.19M231.03,233.20L233.13,236.56L235.23,233.20M232.95,233.21L235.05,236.57L237.15,233.21M234.87,233.21L236.97,236.57L239.07,233.21M236.79,233.22L238.89,236.58L240.99,233.22M238.72,233.22L240.82,236.58L242.92,233.22M240.64,233.22L242.74,236.58L244.84,233.22M242.56,233.22L244.66,236.58L246.76,233.22M244.48,233.23L246.58,236.59L248.68,233.23M246.41,233.23L248.51,236.59L250.61,233.23M248.33,233.23L250.43,236.59L252.53,233.23M250.25,233.23L252.35,236.59L254.45,233.23M252.18,233.23L254.28,236.59L256.38,233.23M254.10,233.24L256.20,236.60L258.30,233.24M256.02,233.24L258.12,236.60L260.22,233.24M257.94,233.24L260.04,236.60L262.14,233.24M259.87,233.24L261.97,236.60L264.07,233.24M261.79,233.25L263.89,236.61L265.99,233.25M263.71,233.25L265.81,236.61L267.91,233.25M265.63,233.25L267.73,236.61L269.83,233.25M267.56,233.25L269.66,236.61L271.76,233.25M269.48,233.25L271.58,236.61L273.68,233.25M271.40,233.26L273.50,236.62L275.60,233.26M273.32,233.26L275.42,236.62L277.52,233.26M275.25,233.26L277.35,236.62L279.45,233.26M277.17,233.26L279.27,236.62L281.37,233.26M279.09,233.26L281.19,236.62L283.29,233.26M281.01,233.26L283.11,236.62L285.21,233.26M282.94,233.27L285.04,236.63L287.14,233.27M284.86,233.27L286.96,236.63L289.06,233.27M286.78,233.27L288.88,236.63L290.98,233.27M288.70,233.27L290.80,236.63L292.90,233.27M290.62,233.27L292.73,236.63L294.83,233.27M292.55,233.27L294.65,236.63L296.75,233.27M294.47,233.28L296.57,236.64L298.67,233.28M296.39,233.28L298.49,236.64L300.59,233.28M298.31,233.28L300.42,236.64L302.52,233.28M300.24,233.28L302.34,236.64L304.44,233.28M302.16,233.28L304.26,236.64L306.36,233.28M304.08,233.28L306.18,236.64L308.28,233.28M306.00,233.28L308.11,236.64L310.21,233.28M307.93,233.29L310.03,236.65L312.13,233.29M309.85,233.29L311.95,236.65L314.05,233.29M311.77,233.29L313.87,236.65L315.97,233.29M313.69,233.29L315.80,236.65L317.90,233.29M315.62,233.29L317.72,236.65L319.82,233.29M317.54,233.29L319.64,236.65L321.74,233.29M319.46,233.29L321.56,236.65L323.66,233.29M321.38,233.29L323.49,236.65L325.59,233.29M323.31,233.30L325.41,236.66L327.51,233.30M325.23,233.30L327.33,236.66L329.43,233.30M327.15,233.30L329.25,236.66L331.35,233.30M329.07,233.30L331.18,236.66L333.28,233.30M331.00,233.30L333.10,236.66L335.20,233.30M332.92,233.30L335.02,236.66L337.12,233.30M334.84,233.30L336.94,236.66L339.04,233.30M336.76,233.30L338.87,236.66L340.97,233.30M338.69,233.30L340.79,236.66L342.89,233.30M340.61,233.31L342.71,236.67L344.81,233.31M342.53,233.31L344.63,236.67L346.73,233.31M344.45,233.31L346.56,236.67L348.66,233.31M346.38,233.31L348.48,236.67L350.58,233.31M348.30,233.31L350.40,236.67L352.50,233.31M350.22,233.31L352.32,236.67L354.42,233.31M352.14,233.31L354.25,236.67L356.35,233.31M354.07,233.31L356.17,236.67L358.27,233.31M355.99,233.31L358.09,236.67L360.19,233.31M357.91,233.31L360.01,236.67L362.11,233.31M359.83,233.31L361.94,236.67L364.04,233.31M361.76,233.32L363.86,236.68L365.96,233.32M363.68,233.32L365.78,236.68L367.88,233.32M365.60,233.32L367.70,236.68L369.80,233.32M367.52,233.32L369.62,236.68L371.73,233.32M369.45,233.32L371.55,236.68L373.65,233.32M371.37,233.32L373.47,236.68L375.57,233.32M373.29,233.32L375.39,236.68L377.49,233.32M375.22,233.32L377.32,236.68L379.42,233.32M377.14,233.32L379.24,236.68L381.34,233.32M379.06,233.32L381.16,236.68L383.26,233.32M380.98,233.32L383.08,236.68L385.18,233.32M382.91,233.32L385.01,236.68L387.11,233.32M384.83,233.32L386.93,236.68L389.03,233.32M386.75,233.32L388.85,236.68L390.95,233.32M388.67,233.32L390.77,236.68L392.87,233.32M390.60,233.32L392.70,236.68L394.80,233.32M392.52,233.32L394.62,236.68L396.72,233.32M394.44,233.33L396.54,236.69L398.64,233.33M396.36,233.33L398.46,236.69L400.56,233.33M398.29,233.33L400.39,236.69L402.49,233.33M400.21,233.33L402.31,236.69L404.41,233.33M402.13,233.33L404.23,236.69L406.33,233.33M404.05,233.33L406.15,236.69L408.25,233.33M405.98,233.33L408.08,236.69L410.18,233.33M407.90,233.33L410.00,236.69L412.10,233.33M409.82,233.33L411.92,236.69L414.02,233.33M411.74,233.33L413.84,236.69L415.94,233.33M413.67,233.33L415.77,236.69L417.87,233.33M415.59,233.33L417.69,236.69L419.79,233.33M417.51,233.33L419.61,236.69L421.71,233.33M419.43,233.33L421.53,236.69L423.63,233.33M421.36,233.33L423.46,236.69L425.56,233.33M423.28,233.33L425.38,236.69L427.48,233.33M425.20,233.33L427.30,236.69L429.40,233.33M427.12,233.33L429.22,236.69L431.32,233.33M429.05,233.33L431.15,236.69L433.25,233.33M430.97,233.33L433.07,236.69L435.17,233.33M431.93,233.33L434.03,236.69L436.13,233.33" fill="none" stroke="#A0522D" stroke-width="1.25"/>
<path d="M46.64,37.06 L48.57,44.24 L50.49,51.09 L52.41,57.58 L54.33,63.74 L56.26,69.59 L58.18,75.17 L60.10,80.51 L62.02,85.86 L63.95,91.42 L65.87,97.08 L67.79,102.59 L69.72,107.70 L71.64,112.32 L73.56,116.56 L75.48,120.69 L77.41,124.76 L79.33,128.78 L81.25,132.75 L83.17,136.68 L85.09,140.58 L87.02,144.44 L88.94,148.27 L90.86,152.07 L92.78,155.83 L94.71,159.56 L96.63,163.20 L98.55,166.74 L100.47,170.18 L102.40,173.53 L104.32,176.79 L106.24,179.98 L108.17,183.08 L110.09,186.12 L112.01,189.09 L113.93,192.00 L115.86,194.84 L117.78,197.63 L119.70,200.36 L121.62,203.03 L123.55,205.69 L125.47,210.37 L127.39,212.47 L129.31,214.62 L131.24,216.40 L133.16,217.94 L135.08,219.47 L137.00,221.00 L138.93,222.35 L140.85,223.44 L142.77,224.39 L144.69,225.37 L146.62,226.45 L148.54,227.45 L150.46,228.13 L152.38,228.61 L154.31,229.01 L156.23,229.35 L158.15,229.65 L160.07,229.91 L162.00,230.14 L163.92,230.35 L165.84,230.54 L167.76,230.71 L169.69,230.87 L171.61,231.03 L173.53,231.17 L175.45,231.31 L177.38,231.44 L179.30,231.56 L181.22,231.67 L183.14,231.77 L185.06,231.87 L186.99,231.96 L188.91,232.05 L190.83,232.14 L192.75,232.23 L194.68,232.31 L196.60,232.39 L198.52,232.46 L200.44,232.51 L202.37,232.54 L204.29,232.56 L206.21,232.57 L208.13,232.59 L210.06,232.63 L211.98,232.70 L213.90,234.51 L215.82,234.53 L217.75,234.56 L219.67,234.58 L221.59,234.60 L223.51,234.62 L225.44,234.63 L227.36,234.64 L229.28,234.66 L231.20,234.66 L233.13,234.67 L235.05,234.68 L236.97,234.68 L238.89,234.69 L240.82,234.69 L242.74,234.69 L244.66,234.69 L246.58,234.70 L248.51,234.70 L250.43,234.70 L252.35,234.70 L254.28,234.70 L256.20,234.71 L258.12,234.71 L260.04,234.71 L261.97,234.71 L263.89,234.72 L265.81,234.72 L267.73,234.72 L269.66,234.72 L271.58,234.72 L273.50,234.73 L275.42,234.73 L277.35,234.73 L279.27,234.73 L281.19,234.73 L283.11,234.73 L285.04,234.74 L286.96,234.74 L288.88,234.74 L290.80,234.74 L292.73,234.74 L294.65,234.74 L296.57,234.75 L298.49,234.75 L300.42,234.75 L302.34,234.75 L304.26,234.75 L306.18,234.75 L308.11,234.75 L310.03,234.76 L311.95,234.76 L313.87,234.76 L315.80,234.76 L317.72,234.76 L319.64,234.76 L321.56,234.76 L323.49,234.76 L325.41,234.77 L327.33,234.77 L329.25,234.77 L331.18,234.77 L333.10,234.77 L335.02,234.77 L336.94,234.77 L338.87,234.77 L340.79,234.77 L342.71,234.78 L344.63,234.78 L346.56,234.78 L348.48,234.78 L350.40,234.78 L352.32,234.78 L354.25,234.78 L356.17,234.78 L358.09,234.78 L360.01,234.78 L361.94,234.78 L363.86,234.79 L365.78,234.79 L367.70,234.79 L369.62,234.79 L371.55,234.79 L373.47,234.79 L375.39,234.79 L377.32,234.79 L379.24,234.79 L381.16,234.79 L383.08,234.79 L385.01,234.79 L386.93,234.79 L388.85,234.79 L390.77,234.79 L392.70,234.79 L394.62,234.79 L396.54,234.80 L398.46,234.80 L400.39,234.80 L402.31,234.80 L404.23,234.80 L406.15,234.80 L408.08,234.80 L410.00,234.80 L411.92,234.80 L413.84,234.80 L415.77,234.80 L417.69,234.80 L419.61,234.80 L421.53,234.80 L423.46,234.80 L425.38,234.80 L427.30,234.80 L429.22,234.80 L431.15,234.80 L433.07,234.80 L434.03,234.80" fill="none" stroke="#80BBE6" stroke-width="1"/>
<path d="M46.64,32.51l4.55,4.55l-4.55,4.55l-4.55,-4.55zM48.57,39.69l4.55,4.55l-4.55,4.55l-4.55,-4.55zM50.49,46.54l4.55,4.55l-4.55,4.55l-4.55,-4.55zM52.41,53.03l4.55,4.55l-4.55,4.55l-4.55,-4.55zM54.33,59.19l4.55,4.55l-4.55,4.55l-4.55,-4.55zM56.26,65.04l4.55,4.55l-4.55,4.55l-4.55,-4.55zM58.18,70.62l4.55,4.55l-4.55,4.55l-4.55,-4.55zM60.10,75.96l4.55,4.55l-4.55,4.55l-4.55,-4.55zM62.02,81.31l4.55,4.55l-4.55,4.55l-4.55,-4.55zM63.95,86.87l4.55,4.55l-4.55,4.55l-4.55,-4.55zM65.87,92.53l4.55,4.55l-4.55,4.55l-4.55,-4.55zM67.79,98.04l4.55,4.55l-4.55,4.55l-4.55,-4.55zM69.72,103.15l4.55,4.55l-4.55,4.55l-4.55,-4.55zM71.64,107.77l4.55,4.55l-4.55,4.55l-4.55,-4.55zM73.56,112.01l4.55,4.55l-4.55,4.55l-4.55,-4.55zM75.48,116.14l4.55,4.55l-4.55,4.55l-4.55,-4.55zM77.41,120.21l4.55,4.55l-4.55,4.55l-4.55,-4.55zM79.33,124.23l4.55,4.55l-4.55,4.55l-4.55,-4.55zM81.25,128.20l4.55,4.55l-4.55,4.55l-4.55,-4.55zM83.17,132.13l4.55,4.55l-4.55,4.55l-4.55,-4.55zM85.09,136.03l4.55,4.55l-4.55,4.55l-4.55,-4.55zM87.02,139.89l4.55,4.55l-4.55,4.55l-4.55,-4.55zM88.94,143.72l4.55,4.55l-4.55,4.55l-4.55,-4.55zM90.86,147.52l4.55,4.55l-4.55,4.55l-4.55,-4.55zM92.78,151.28l4.55,4.55l-4.55,4.55l-4.55,-4.55zM94.71,155.01l4.55,4.55l-4.55,4.55l-4.55,-4.55zM96.63,158.65l4.55,4.55l-4.55,4.55l-4.55,-4.55zM98.55,162.19l4.55,4.55l-4.55,4.55l-4.55,-4.55zM100.47,165.63l4.55,4.55l-4.55,4.55l-4.55,-4.55zM102.40,168.98l4.55,4.55l-4.55,4.55l-4.55,-4.55zM104.32,172.24l4.55,4.55l-4.55,4.55l-4.55,-4.55zM106.24,175.43l4.55,4.55l-4.55,4.55l-4.55,-4.55zM108.17,178.53l4.55,4.55l-4.55,4.55l-4.55,-4.55zM110.09,181.57l4.55,4.55l-4.55,4.55l-4.55,-4.55zM112.01,184.54l4.55,4.55l-4.55,4.55l-4.55,-4.55zM113.93,187.45l4.55,4.55l-4.55,4.55l-4.55,-4.55zM115.86,190.29l4.55,4.55l-4.55,4.55l-4.55,-4.55zM117.78,193.08l4.55,4.55l-4.55,4.55l-4.55,-4.55zM119.70,195.81l4.55,4.55l-4.55,4.55l-4.55,-4.55zM121.62,198.48l4.55,4.55l-4.55,4.55l-4.55,-4.55zM123.55,201.14l4.55,4.55l-4.55,4.55l-4.55,-4.55zM125.47,205.82l4.55,4.55l-4.55,4.55l-4.55,-4.55zM127.39,207.92l4.55,4.55l-4.55,4.55l-4.55,-4.55zM129.31,210.07l4.55,4.55l-4.55,4.55l-4.55,-4.55zM131.24,211.85l4.55,4.55l-4.55,4.55l-4.55,-4.55zM133.16,213.39l4.55,4.55l-4.55,4.55l-4.55,-4.55zM135.08,214.92l4.55,4.55l-4.55,4.55l-4.55,-4.55zM137.00,216.45l4.55,4.55l-4.55,4.55l-4.55,-4.55zM138.93,217.80l4.55,4.55l-4.55,4.55l-4.55,-4.55zM140.85,218.89l4.55,4.55l-4.55,4.55l-4.55,-4.55zM142.77,219.84l4.55,4.55l-4.55,4.55l-4.55,-4.55zM144.69,220.82l4.55,4.55l-4.55,4.55l-4.55,-4.55zM146.62,221.90l4.55,4.55l-4.55,4.55l-4.55,-4.55zM148.54,222.90l4.55,4.55l-4.55,4.55l-4.55,-4.55zM150.46,223.58l4.55,4.55l-4.55,4.55l-4.55,-4.55zM152.38,224.06l4.55,4.55l-4.55,4.55l-4.55,-4.55zM154.31,224.46l4.55,4.55l-4.55,4.55l-4.55,-4.55zM156.23,224.80l4.55,4.55l-4.55,4.55l-4.55,-4.55zM158.15,225.10l4.55,4.55l-4.55,4.55l-4.55,-4.55zM160.07,225.36l4.55,4.55l-4.55,4.55l-4.55,-4.55zM162.00,225.59l4.55,4.55l-4.55,4.55l-4.55,-4.55zM163.92,225.80l4.55,4.55l-4.55,4.55l-4.55,-4.55zM165.84,225.99l4.55,4.55l-4.55,4.55l-4.55,-4.55zM167.76,226.16l4.55,4.55l-4.55,4.55l-4.55,-4.55zM169.69,226.32l4.55,4.55l-4.55,4.55l-4.55,-4.55zM171.61,226.48l4.55,4.55l-4.55,4.55l-4.55,-4.55zM173.53,226.62l4.55,4.55l-4.55,4.55l-4.55,-4.55zM175.45,226.76l4.55,4.55l-4.55,4.55l-4.55,-4.55zM177.38,226.89l4.55,4.55l-4.55,4.55l-4.55,-4.55zM179.30,227.01l4.55,4.55l-4.55,4.55l-4.55,-4.55zM181.22,227.12l4.55,4.55l-4.55,4.55l-4.55,-4.55zM183.14,227.22l4.55,4.55l-4.55,4.55l-4.55,-4.55zM185.06,227.32l4.55,4.55l-4.55,4.55l-4.55,-4.55zM186.99,227.41l4.55,4.55l-4.55,4.55l-4.55,-4.55zM188.91,227.50l4.55,4.55l-4.55,4.55l-4.55,-4.55zM190.83,227.59l4.55,4.55l-4.55,4.55l-4.55,-4.55zM192.75,227.68l4.55,4.55l-4.55,4.55l-4.55,-4.55zM194.68,227.76l4.55,4.55l-4.55,4.55l-4.55,-4.55zM196.60,227.84l4.55,4.55l-4.55,4.55l-4.55,-4.55zM198.52,227.91l4.55,4.55l-4.55,4.55l-4.55,-4.55zM200.44,227.96l4.55,4.55l-4.55,4.55l-4.55,-4.55zM202.37,227.99l4.55,4.55l-4.55,4.55l-4.55,-4.55zM204.29,228.01l4.55,4.55l-4.55,4.55l-4.55,-4.55zM206.21,228.02l4.55,4.55l-4.55,4.55l-4.55,-4.55zM208.13,228.04l4.55,4.55l-4.55,4.55l-4.55,-4.55zM210.06,228.08l4.55,4.55l-4.55,4.55l-4.55,-4.55zM211.98,228.15l4.55,4.55l-4.55,4.55l-4.55,-4.55zM213.90,229.96l4.55,4.55l-4.55,4.55l-4.55,-4.55zM215.82,229.98l4.55,4.55l-4.55,4.55l-4.55,-4.55zM217.75,230.01l4.55,4.55l-4.55,4.55l-4.55,-4.55zM219.67,230.03l4.55,4.55l-4.55,4.55l-4.55,-4.55zM221.59,230.05l4.55,4.55l-4.55,4.55l-4.55,-4.55zM223.51,230.07l4.55,4.55l-4.55,4.55l-4.55,-4.55zM225.44,230.08l4.55,4.55l-4.55,4.55l-4.55,-4.55zM227.36,230.09l4.55,4.55l-4.55,4.55l-4.55,-4.55zM229.28,230.11l4.55,4.55l-4.55,4.55l-4.55,-4.55zM231.20,230.11l4.55,4.55l-4.55,4.55l-4.55,-4.55zM233.13,230.12l4.55,4.55l-4.55,4.55l-4.55,-4.55zM235.05,230.13l4.55,4.55l-4.55,4.55l-4.55,-4.55zM236.97,230.13l4.55,4.55l-4.55,4.55l-4.55,-4.55zM238.89,230.14l4.55,4.55l-4.55,4.55l-4.55,-4.55zM240.82,230.14l4.55,4.55l-4.55,4.55l-4.55,-4.55zM242.74,230.14l4.55,4.55l-4.55,4.55l-4.55,-4.55zM244.66,230.14l4.55,4.55l-4.55,4.55l-4.55,-4.55zM246.58,230.15l4.55,4.55l-4.55,4.55l-4.55,-4.55zM248.51,230.15l4.55,4.55l-4.55,4.55l-4.55,-4.55zM250.43,230.15l4.55,4.55l-4.55,4.55l-4.55,-4.55zM252.35,230.15l4.55,4.55l-4.55,4.55l-4.55,-4.55zM254.28,230.15l4.55,4.55l-4.55,4.55l-4.55,-4.55zM256.20,230.16l4.55,4.55l-4.55,4.55l-4.55,-4.55zM258.12,230.16l4.55,4.55l-4.55,4.55l-4.55,-4.55zM260.04,230.16l4.55,4.55l-4.55,4.55l-4.55,-4.55zM261.97,230.16l4.55,4.55l-4.55,4.55l-4.55,-4.55zM263.89,230.17l4.55,4.55l-4.55,4.55l-4.55,-4.55zM265.81,230.17l4.55,4.55l-4.55,4.55l-4.55,-4.55zM267.73,230.17l4.55,4.55l-4.55,4.55l-4.55,-4.55zM269.66,230.17l4.55,4.55l-4.55,4.55l-4.55,-4.55zM271.58,230.17l4.55,4.55l-4.55,4.55l-4.55,-4.55zM273.50,230.18l4.55,4.55l-4.55,4.55l-4.55,-4.55zM275.42,230.18l4.55,4.55l-4.55,4.55l-4.55,-4.55zM277.35,230.18l4.55,4.55l-4.55,4.55l-4.55,-4.55zM279.27,230.18l4.55,4.55l-4.55,4.55l-4.55,-4.55zM281.19,230.18l4.55,4.55l-4.55,4.55l-4.55,-4.55zM283.11,230.18l4.55,4.55l-4.55,4.55l-4.55,-4.55zM285.04,230.19l4.55,4.55l-4.55,4.55l-4.55,-4.55zM286.96,230.19l4.55,4.55l-4.55,4.55l-4.55,-4.55zM288.88,230.19l4.55,4.55l-4.55,4.55l-4.55,-4.55zM290.80,230.19l4.55,4.55l-4.55,4.55l-4.55,-4.55zM292.73,230.19l4.55,4.55l-4.55,4.55l-4.55,-4.55zM294.65,230.19l4.55,4.55l-4.55,4.55l-4.55,-4.55zM296.57,230.20l4.55,4.55l-4.55,4.55l-4.55,-4.55zM298.49,230.20l4.55,4.55l-4.55,4.55l-4.55,-4.55zM300.42,230.20l4.55,4.55l-4.55,4.55l-4.55,-4.55zM302.34,230.20l4.55,4.55l-4.55,4.55l-4.55,-4.55zM304.26,230.20l4.55,4.55l-4.55,4.55l-4.55,-4.55zM306.18,230.20l4.55,4.55l-4.55,4.55l-4.55,-4.55zM308.11,230.20l4.55,4.55l-4.55,4.55l-4.55,-4.55zM310.03,230.21l4.55,4.55l-4.55,4.55l-4.55,-4.55zM311.95,230.21l4.55,4.55l-4.55,4.55l-4.55,-4.55zM313.87,230.21l4.55,4.55l-4.55,4.55l-4.55,-4.55zM315.80,230.21l4.55,4.55l-4.55,4.55l-4.55,-4.55zM317.72,230.21l4.55,4.55l-4.55,4.55l-4.55,-4.55zM319.64,230.21l4.55,4.55l-4.55,4.55l-4.55,-4.55zM321.56,230.21l4.55,4.55l-4.55,4.55l-4.55,-4.55zM323.49,230.21l4.55,4.55l-4.55,4.55l-4.55,-4.55zM325.41,230.22l4.55,4.55l-4.55,4.55l-4.55,-4.55zM327.33,230.22l4.55,4.55l-4.55,4.55l-4.55,-4.55zM329.25,230.22l4.55,4.55l-4.55,4.55l-4.55,-4.55zM331.18,230.22l4.55,4.55l-4.55,4.55l-4.55,-4.55zM333.10,230.22l4.55,4.55l-4.55,4.55l-4.55,-4.55zM335.02,230.22l4.55,4.55l-4.55,4.55l-4.55,-4.55zM336.94,230.22l4.55,4.55l-4.55,4.55l-4.55,-4.55zM338.87,230.22l4.55,4.55l-4.55,4.55l-4.55,-4.55zM340.79,230.22l4.55,4.55l-4.55,4.55l-4.55,-4.55zM342.71,230.23l4.55,4.55l-4.55,4.55l-4.55,-4.55zM344.63,230.23l4.55,4.55l-4.55,4.55l-4.55,-4.55zM346.56,230.23l4.55,4.55l-4.55,4.55l-4.55,-4.55zM348.48,230.23l4.55,4.55l-4.55,4.55l-4.55,-4.55zM350.40,230.23l4.55,4.55l-4.55,4.55l-4.55,-4.55zM352.32,230.23l4.55,4.55l-4.55,4.55l-4.55,-4.55zM354.25,230.23l4.55,4.55l-4.55,4.55l-4.55,-4.55zM356.17,230.23l4.55,4.55l-4.55,4.55l-4.55,-4.55zM358.09,230.23l4.55,4.55l-4.55,4.55l-4.55,-4.55zM360.01,230.23l4.55,4.55l-4.55,4.55l-4.55,-4.55zM361.94,230.23l4.55,4.55l-4.55,4.55l-4.55,-4.55zM363.86,230.24l4.55,4.55l-4.55,4.55l-4.55,-4.55zM365.78,230.24l4.55,4.55l-4.55,4.55l-4.55,-4.55zM367.70,230.24l4.55,4.55l-4.55,4.55l-4.55,-4.55zM369.62,230.24l4.55,4.55l-4.55,4.55l-4.55,-4.55zM371.55,230.24l4.55,4.55l-4.55,4.55l-4.55,-4.55zM373.47,230.24l4.55,4.55l-4.55,4.55l-4.55,-4.55zM375.39,230.24l4.55,4.55l-4.55,4.55l-4.55,-4.55zM377.32,230.24l4.55,4.55l-4.55,4.55l-4.55,-4.55zM379.24,230.24l4.55,4.55l-4.55,4.55l-4.55,-4.55zM381.16,230.24l4.55,4.55l-4.55,4.55l-4.55,-4.55zM383.08,230.24l4.55,4.55l-4.55,4.55l-4.55,-4.55zM385.01,230.24l4.55,4.55l-4.55,4.55l-4.55,-4.55zM386.93,230.24l4.55,4.55l-4.55,4.55l-4.55,-4.55zM388.85,230.24l4.55,4.55l-4.55,4.55l-4.55,-4.55zM390.77,230.24l4.55,4.55l-4.55,4.55l-4.55,-4.55zM392.70,230.24l4.55,4.55l-4.55,4.55l-4.55,-4.55zM394.62,230.24l4.55,4.55l-4.55,4.55l-4.55,-4.55zM396.54,230.25l4.55,4.55l-4.55,4.55l-4.55,-4.55zM398.46,230.25l4.55,4.55l-4.55,4.55l-4.55,-4.55zM400.39,230.25l4.55,4.55l-4.55,4.55l-4.55,-4.55zM402.31,230.25l4.55,4.55l-4.55,4.55l-4.55,-4.55zM404.23,230.25l4.55,4.55l-4.55,4.55l-4.55,-4.55zM406.15,230.25l4.55,4.55l-4.55,4.55l-4.55,-4.55zM408.08,230.25l4.55,4.55l-4.55,4.55l-4.55,-4.55zM410.00,230.25l4.55,4.55l-4.55,4.55l-4.55,-4.55zM411.92,230.25l4.55,4.55l-4.55,4.55l-4.55,-4.55zM413.84,230.25l4.55,4.55l-4.55,4.55l-4.55,-4.55zM415.77,230.25l4.55,4.55l-4.55,4.55l-4.55,-4.55zM417.69,230.25l4.55,4.55l-4.55,4.55l-4.55,-4.55zM419.61,230.25l4.55,4.55l-4.55,4.55l-4.55,-4.55zM421.53,230.25l4.55,4.55l-4.55,4.55l-4.55,-4.55zM423.46,230.25l4.55,4.55l-4.55,4.55l-4.55,-4.55zM425.38,230.25l4.55,4.55l-4.55,4.55l-4.55,-4.55zM427.30,230.25l4.55,4.55l-4.55,4.55l-4.55,-4.55zM429.22,230.25l4.55,4.55l-4.55,4.55l-4.55,-4.55zM431.15,230.25l4.55,4.55l-4.55,4.55l-4.55,-4.55zM433.07,230.25l4.55,4.55l-4.55,4.55l-4.55,-4.55zM434.03,230.25l4.55,4.55l-4.55,4.55l-4.55,-4.55z" fill="#80BBE6"/>
<rect x="80.5" y="18.5" width="342" height="38" fill="#fff" stroke="#AD363E" stroke-width="1"/>
<line x1="85.6" x2="129" y1="29.5" y2="29.5" stroke="#1A476F" stroke-width="1"/>
<path d="M104.40,26.40h5.80v5.80h-5.80z" fill="#1A476F"/>
<text class="lg" x="137.0" y="33.60">Tomato</text>
<line x1="194.8" x2="238.5" y1="29.5" y2="29.5" stroke="#FF00FF" stroke-width="1"/>
<path d="M216.65,26.95l2.35,2.35l-2.35,2.35l-2.35,-2.35z" fill="#fff" stroke="#FF00FF" stroke-width="1.2"/>
<text class="lg" x="245.8" y="33.60">Cucumber</text>
<line x1="318.4" x2="362.3" y1="29.5" y2="29.5" stroke="#00EE00" stroke-width="1"/>
<path d="M337.65,29.30a2.70,2.70 0 1,0 5.40,0a2.70,2.70 0 1,0 -5.40,0z" fill="#fff" stroke="#00EE00" stroke-width="1.2"/>
<text class="lg" x="369.9" y="33.60">Eggplant</text>
<line x1="85.6" x2="129" y1="45.5" y2="45.5" stroke="#A0522D" stroke-width="1"/>
<path d="M105.30,44.80L107.30,48.00L109.30,44.80" fill="none" stroke="#A0522D" stroke-width="1.1"/>
<text class="lg" x="137.0" y="49.90">Pepper</text>
<line x1="194.8" x2="238.5" y1="45.5" y2="45.5" stroke="#80BBE6" stroke-width="1"/>
<path d="M216.65,41.00l4.30,4.30l-4.30,4.30l-4.30,-4.30z" fill="#80BBE6"/>
<text class="lg" x="245.8" y="49.90">Cabbage</text>
</svg>
</body></html>
